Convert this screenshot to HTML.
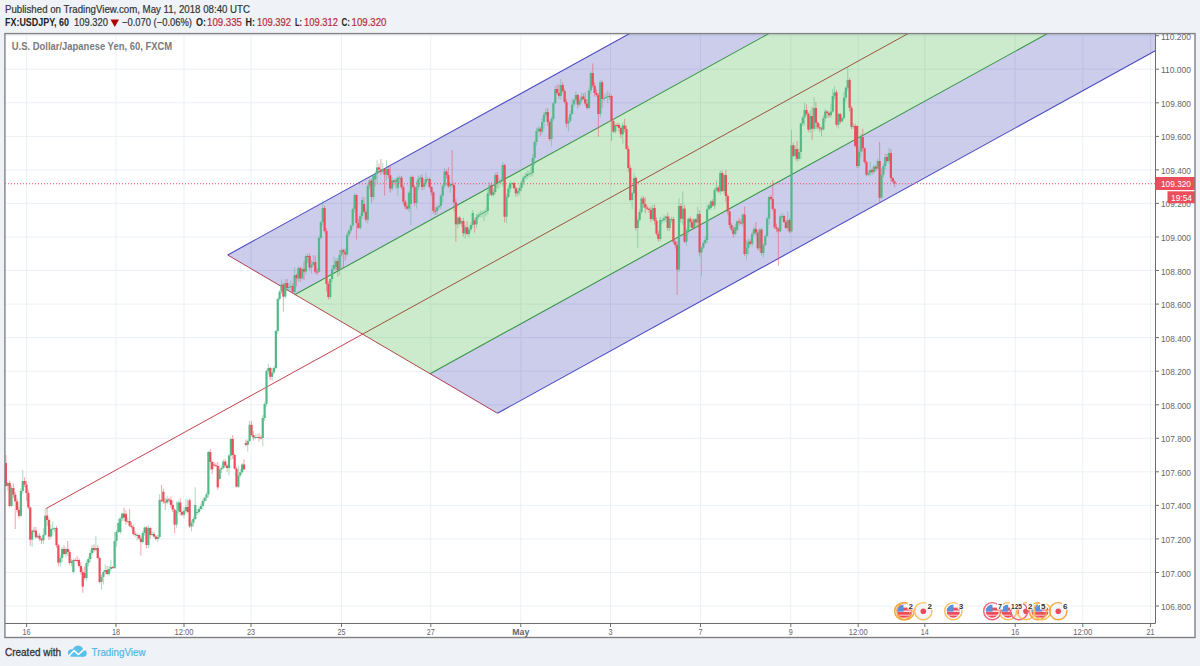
<!DOCTYPE html><html><head><meta charset="utf-8"><style>html,body{margin:0;padding:0;background:#eff2f6;width:1200px;height:666px;overflow:hidden}svg{display:block}text{font-family:"Liberation Sans",sans-serif}</style></head><body>
<svg width="1200" height="666" viewBox="0 0 1200 666">
<rect x="0" y="0" width="1200" height="666" fill="#eff2f6"/>
<text x="5" y="12.5" font-size="11" fill="#333" stroke="#333" stroke-width="0.2" textLength="245" lengthAdjust="spacingAndGlyphs">Published on TradingView.com, May 11, 2018 08:40 UTC</text>
<text x="5" y="26" font-size="11" font-weight="bold" fill="#222" textLength="64" lengthAdjust="spacingAndGlyphs">FX:USDJPY, 60</text>
<text x="74" y="26" font-size="11" fill="#333" stroke="#333" stroke-width="0.2" textLength="34" lengthAdjust="spacingAndGlyphs">109.320</text>
<path d="M110.5 19.5 L119 19.5 L114.75 27 Z" fill="#b30000"/>
<text x="122" y="26" font-size="11" fill="#333" stroke="#333" stroke-width="0.2" textLength="70" lengthAdjust="spacingAndGlyphs">−0.070 (−0.06%)</text>
<text x="196" y="26" font-size="11" font-weight="bold" fill="#222" textLength="10" lengthAdjust="spacingAndGlyphs">O:</text>
<text x="207" y="26" font-size="11" fill="#b82a3a" stroke="#b82a3a" stroke-width="0.2" textLength="35" lengthAdjust="spacingAndGlyphs">109.335</text>
<text x="245.5" y="26" font-size="11" font-weight="bold" fill="#222" textLength="9.5" lengthAdjust="spacingAndGlyphs">H:</text>
<text x="257" y="26" font-size="11" fill="#b82a3a" stroke="#b82a3a" stroke-width="0.2" textLength="34" lengthAdjust="spacingAndGlyphs">109.392</text>
<text x="295" y="26" font-size="11" font-weight="bold" fill="#222" textLength="7" lengthAdjust="spacingAndGlyphs">L:</text>
<text x="304" y="26" font-size="11" fill="#b82a3a" stroke="#b82a3a" stroke-width="0.2" textLength="34" lengthAdjust="spacingAndGlyphs">109.312</text>
<text x="341.5" y="26" font-size="11" font-weight="bold" fill="#222" textLength="8.5" lengthAdjust="spacingAndGlyphs">C:</text>
<text x="351.5" y="26" font-size="11" fill="#b82a3a" stroke="#b82a3a" stroke-width="0.2" textLength="35" lengthAdjust="spacingAndGlyphs">109.320</text>
<rect x="4.5" y="33.5" width="1190.5" height="604" fill="#ffffff"/>
<defs><clipPath id="plot"><rect x="5" y="34" width="1150.5" height="589"/></clipPath></defs>
<g stroke="#ebf1f7" stroke-width="1">
<line x1="5" y1="606.0" x2="1155" y2="606.0"/>
<line x1="5" y1="572.5" x2="1155" y2="572.5"/>
<line x1="5" y1="538.9" x2="1155" y2="538.9"/>
<line x1="5" y1="505.4" x2="1155" y2="505.4"/>
<line x1="5" y1="471.8" x2="1155" y2="471.8"/>
<line x1="5" y1="438.3" x2="1155" y2="438.3"/>
<line x1="5" y1="404.8" x2="1155" y2="404.8"/>
<line x1="5" y1="371.2" x2="1155" y2="371.2"/>
<line x1="5" y1="337.6" x2="1155" y2="337.6"/>
<line x1="5" y1="304.1" x2="1155" y2="304.1"/>
<line x1="5" y1="270.5" x2="1155" y2="270.5"/>
<line x1="5" y1="237.0" x2="1155" y2="237.0"/>
<line x1="5" y1="203.4" x2="1155" y2="203.4"/>
<line x1="5" y1="169.9" x2="1155" y2="169.9"/>
<line x1="5" y1="136.4" x2="1155" y2="136.4"/>
<line x1="5" y1="102.8" x2="1155" y2="102.8"/>
<line x1="5" y1="69.2" x2="1155" y2="69.2"/>
<line x1="5" y1="35.7" x2="1155" y2="35.7"/>
<line x1="26.6" y1="34" x2="26.6" y2="623"/>
<line x1="116" y1="34" x2="116" y2="623"/>
<line x1="184" y1="34" x2="184" y2="623"/>
<line x1="251" y1="34" x2="251" y2="623"/>
<line x1="341.5" y1="34" x2="341.5" y2="623"/>
<line x1="430.8" y1="34" x2="430.8" y2="623"/>
<line x1="520.8" y1="34" x2="520.8" y2="623"/>
<line x1="610.5" y1="34" x2="610.5" y2="623"/>
<line x1="700.5" y1="34" x2="700.5" y2="623"/>
<line x1="790.8" y1="34" x2="790.8" y2="623"/>
<line x1="858.2" y1="34" x2="858.2" y2="623"/>
<line x1="924.8" y1="34" x2="924.8" y2="623"/>
<line x1="1015.2" y1="34" x2="1015.2" y2="623"/>
<line x1="1082.8" y1="34" x2="1082.8" y2="623"/>
<line x1="1150.6" y1="34" x2="1150.6" y2="623"/>
</g>
<g clip-path="url(#plot)">
<line x1="227.70" y1="255.00" x2="1300.00" y2="-335.84" stroke="#5050c8" stroke-width="1.05"/>
<line x1="497.50" y1="413.30" x2="1300.00" y2="-28.88" stroke="#5050c8" stroke-width="1.05"/>
<line x1="295.15" y1="294.57" x2="1300.00" y2="-259.10" stroke="#44a844" stroke-width="1.05"/>
<line x1="430.05" y1="373.73" x2="1300.00" y2="-105.62" stroke="#44a844" stroke-width="1.05"/>
<line x1="46.20" y1="508.49" x2="1300.00" y2="-182.36" stroke="#c4424c" stroke-width="1.0"/>
<line x1="227.70" y1="255.00" x2="497.50" y2="413.30" stroke="#c4424c" stroke-width="1.0"/>
<polygon points="227.70,255.00 1300.00,-335.84 1300.00,-259.10 295.15,294.57" fill="rgba(0,0,153,0.2)"/>
<polygon points="295.15,294.57 1300.00,-259.10 1300.00,-105.62 430.05,373.73" fill="rgba(0,153,0,0.2)"/>
<polygon points="430.05,373.73 1300.00,-105.62 1300.00,-28.88 497.50,413.30" fill="rgba(0,0,153,0.2)"/>
</g>
<g clip-path="url(#plot)">
<g stroke-width="1" stroke-opacity="0.5"><line x1="5.88" y1="455.0" x2="5.88" y2="487.0" stroke="#eb4d5c"/><line x1="7.75" y1="482.0" x2="7.75" y2="490.6" stroke="#53b987"/><line x1="9.62" y1="480.8" x2="9.62" y2="507.5" stroke="#eb4d5c"/><line x1="11.50" y1="485.4" x2="11.50" y2="506.9" stroke="#53b987"/><line x1="13.38" y1="483.5" x2="13.38" y2="498.1" stroke="#eb4d5c"/><line x1="15.25" y1="491.9" x2="15.25" y2="529.0" stroke="#eb4d5c"/><line x1="17.12" y1="498.4" x2="17.12" y2="512.7" stroke="#eb4d5c"/><line x1="19.00" y1="506.7" x2="19.00" y2="518.4" stroke="#eb4d5c"/><line x1="20.88" y1="487.9" x2="20.88" y2="517.0" stroke="#53b987"/><line x1="22.75" y1="470.0" x2="22.75" y2="493.9" stroke="#53b987"/><line x1="24.62" y1="477.4" x2="24.62" y2="487.3" stroke="#eb4d5c"/><line x1="26.50" y1="481.1" x2="26.50" y2="500.7" stroke="#eb4d5c"/><line x1="28.38" y1="490.1" x2="28.38" y2="509.1" stroke="#eb4d5c"/><line x1="30.25" y1="506.5" x2="30.25" y2="545.8" stroke="#eb4d5c"/><line x1="32.12" y1="529.4" x2="32.12" y2="547.0" stroke="#53b987"/><line x1="34.00" y1="527.0" x2="34.00" y2="532.3" stroke="#eb4d5c"/><line x1="35.88" y1="527.0" x2="35.88" y2="538.7" stroke="#eb4d5c"/><line x1="37.75" y1="533.4" x2="37.75" y2="538.1" stroke="#53b987"/><line x1="39.62" y1="533.2" x2="39.62" y2="541.2" stroke="#eb4d5c"/><line x1="41.50" y1="537.8" x2="41.50" y2="543.9" stroke="#eb4d5c"/><line x1="43.38" y1="528.4" x2="43.38" y2="544.1" stroke="#53b987"/><line x1="45.25" y1="508.0" x2="45.25" y2="535.8" stroke="#53b987"/><line x1="47.12" y1="508.1" x2="47.12" y2="525.8" stroke="#eb4d5c"/><line x1="49.00" y1="518.1" x2="49.00" y2="540.1" stroke="#eb4d5c"/><line x1="50.88" y1="524.2" x2="50.88" y2="538.5" stroke="#53b987"/><line x1="52.75" y1="521.4" x2="52.75" y2="535.7" stroke="#53b987"/><line x1="54.62" y1="527.1" x2="54.62" y2="532.1" stroke="#53b987"/><line x1="56.50" y1="526.0" x2="56.50" y2="547.8" stroke="#eb4d5c"/><line x1="58.38" y1="543.8" x2="58.38" y2="566.1" stroke="#eb4d5c"/><line x1="60.25" y1="554.8" x2="60.25" y2="566.6" stroke="#53b987"/><line x1="62.12" y1="547.3" x2="62.12" y2="561.9" stroke="#53b987"/><line x1="64.00" y1="545.0" x2="64.00" y2="555.5" stroke="#eb4d5c"/><line x1="65.88" y1="547.5" x2="65.88" y2="557.5" stroke="#53b987"/><line x1="67.75" y1="541.0" x2="67.75" y2="555.7" stroke="#eb4d5c"/><line x1="69.62" y1="549.7" x2="69.62" y2="564.9" stroke="#eb4d5c"/><line x1="71.50" y1="558.9" x2="71.50" y2="566.1" stroke="#53b987"/><line x1="73.38" y1="558.7" x2="73.38" y2="573.3" stroke="#53b987"/><line x1="75.25" y1="558.1" x2="75.25" y2="560.8" stroke="#eb4d5c"/><line x1="77.12" y1="556.2" x2="77.12" y2="563.4" stroke="#eb4d5c"/><line x1="79.00" y1="558.3" x2="79.00" y2="567.6" stroke="#eb4d5c"/><line x1="80.88" y1="562.3" x2="80.88" y2="574.7" stroke="#eb4d5c"/><line x1="82.75" y1="568.3" x2="82.75" y2="592.8" stroke="#eb4d5c"/><line x1="84.62" y1="566.4" x2="84.62" y2="579.4" stroke="#eb4d5c"/><line x1="86.50" y1="560.4" x2="86.50" y2="580.6" stroke="#53b987"/><line x1="88.38" y1="556.4" x2="88.38" y2="566.3" stroke="#53b987"/><line x1="90.25" y1="549.8" x2="90.25" y2="561.8" stroke="#53b987"/><line x1="92.12" y1="545.0" x2="92.12" y2="555.3" stroke="#53b987"/><line x1="94.00" y1="544.4" x2="94.00" y2="552.6" stroke="#eb4d5c"/><line x1="95.88" y1="536.0" x2="95.88" y2="551.0" stroke="#53b987"/><line x1="97.75" y1="545.1" x2="97.75" y2="559.3" stroke="#eb4d5c"/><line x1="99.62" y1="556.7" x2="99.62" y2="583.5" stroke="#eb4d5c"/><line x1="101.50" y1="574.6" x2="101.50" y2="589.5" stroke="#53b987"/><line x1="103.38" y1="570.1" x2="103.38" y2="584.3" stroke="#53b987"/><line x1="105.25" y1="564.5" x2="105.25" y2="574.8" stroke="#53b987"/><line x1="107.12" y1="566.0" x2="107.12" y2="575.1" stroke="#eb4d5c"/><line x1="109.00" y1="565.7" x2="109.00" y2="576.2" stroke="#53b987"/><line x1="110.88" y1="559.7" x2="110.88" y2="571.6" stroke="#53b987"/><line x1="112.75" y1="566.0" x2="112.75" y2="569.0" stroke="#eb4d5c"/><line x1="114.62" y1="532.2" x2="114.62" y2="569.0" stroke="#53b987"/><line x1="116.50" y1="530.1" x2="116.50" y2="546.8" stroke="#53b987"/><line x1="118.38" y1="518.8" x2="118.38" y2="533.0" stroke="#53b987"/><line x1="120.25" y1="516.7" x2="120.25" y2="534.4" stroke="#53b987"/><line x1="122.12" y1="512.7" x2="122.12" y2="521.6" stroke="#53b987"/><line x1="124.00" y1="507.6" x2="124.00" y2="521.0" stroke="#eb4d5c"/><line x1="125.88" y1="510.5" x2="125.88" y2="524.5" stroke="#eb4d5c"/><line x1="127.75" y1="517.5" x2="127.75" y2="523.6" stroke="#53b987"/><line x1="129.62" y1="509.0" x2="129.62" y2="527.3" stroke="#eb4d5c"/><line x1="131.50" y1="522.2" x2="131.50" y2="528.7" stroke="#eb4d5c"/><line x1="133.38" y1="524.7" x2="133.38" y2="535.6" stroke="#eb4d5c"/><line x1="135.25" y1="531.4" x2="135.25" y2="536.8" stroke="#eb4d5c"/><line x1="137.12" y1="532.7" x2="137.12" y2="540.5" stroke="#53b987"/><line x1="139.00" y1="533.9" x2="139.00" y2="539.4" stroke="#eb4d5c"/><line x1="140.88" y1="535.8" x2="140.88" y2="555.7" stroke="#eb4d5c"/><line x1="142.75" y1="531.0" x2="142.75" y2="543.3" stroke="#53b987"/><line x1="144.62" y1="526.6" x2="144.62" y2="535.8" stroke="#53b987"/><line x1="146.50" y1="526.3" x2="146.50" y2="548.5" stroke="#eb4d5c"/><line x1="148.38" y1="525.3" x2="148.38" y2="548.0" stroke="#53b987"/><line x1="150.25" y1="526.8" x2="150.25" y2="538.5" stroke="#eb4d5c"/><line x1="152.12" y1="531.2" x2="152.12" y2="535.8" stroke="#53b987"/><line x1="154.00" y1="531.6" x2="154.00" y2="537.5" stroke="#eb4d5c"/><line x1="155.88" y1="535.5" x2="155.88" y2="540.5" stroke="#eb4d5c"/><line x1="157.75" y1="534.6" x2="157.75" y2="542.0" stroke="#53b987"/><line x1="159.62" y1="494.4" x2="159.62" y2="538.6" stroke="#53b987"/><line x1="161.50" y1="485.0" x2="161.50" y2="502.4" stroke="#eb4d5c"/><line x1="163.38" y1="488.7" x2="163.38" y2="503.9" stroke="#eb4d5c"/><line x1="165.25" y1="497.9" x2="165.25" y2="510.1" stroke="#eb4d5c"/><line x1="167.12" y1="496.0" x2="167.12" y2="504.2" stroke="#53b987"/><line x1="169.00" y1="497.9" x2="169.00" y2="502.5" stroke="#eb4d5c"/><line x1="170.88" y1="496.6" x2="170.88" y2="507.9" stroke="#eb4d5c"/><line x1="172.75" y1="500.5" x2="172.75" y2="512.1" stroke="#eb4d5c"/><line x1="174.62" y1="508.4" x2="174.62" y2="533.1" stroke="#eb4d5c"/><line x1="176.50" y1="501.4" x2="176.50" y2="527.7" stroke="#53b987"/><line x1="178.38" y1="500.5" x2="178.38" y2="513.3" stroke="#53b987"/><line x1="180.25" y1="498.4" x2="180.25" y2="515.5" stroke="#eb4d5c"/><line x1="182.12" y1="510.4" x2="182.12" y2="516.1" stroke="#eb4d5c"/><line x1="184.00" y1="507.2" x2="184.00" y2="518.4" stroke="#53b987"/><line x1="185.88" y1="499.0" x2="185.88" y2="513.1" stroke="#53b987"/><line x1="187.75" y1="499.6" x2="187.75" y2="513.2" stroke="#eb4d5c"/><line x1="189.62" y1="498.5" x2="189.62" y2="528.0" stroke="#eb4d5c"/><line x1="191.50" y1="520.1" x2="191.50" y2="531.3" stroke="#53b987"/><line x1="193.38" y1="516.6" x2="193.38" y2="526.7" stroke="#53b987"/><line x1="195.25" y1="487.2" x2="195.25" y2="520.1" stroke="#53b987"/><line x1="197.12" y1="509.4" x2="197.12" y2="515.1" stroke="#53b987"/><line x1="199.00" y1="507.0" x2="199.00" y2="513.7" stroke="#53b987"/><line x1="200.88" y1="503.6" x2="200.88" y2="510.5" stroke="#53b987"/><line x1="202.75" y1="498.9" x2="202.75" y2="509.5" stroke="#53b987"/><line x1="204.62" y1="496.7" x2="204.62" y2="503.3" stroke="#53b987"/><line x1="206.50" y1="492.3" x2="206.50" y2="501.1" stroke="#53b987"/><line x1="208.38" y1="450.9" x2="208.38" y2="497.4" stroke="#53b987"/><line x1="210.25" y1="449.1" x2="210.25" y2="469.7" stroke="#eb4d5c"/><line x1="212.12" y1="460.5" x2="212.12" y2="474.1" stroke="#eb4d5c"/><line x1="214.00" y1="461.7" x2="214.00" y2="466.3" stroke="#eb4d5c"/><line x1="215.88" y1="463.2" x2="215.88" y2="466.8" stroke="#eb4d5c"/><line x1="217.75" y1="462.1" x2="217.75" y2="489.6" stroke="#eb4d5c"/><line x1="219.62" y1="465.4" x2="219.62" y2="479.9" stroke="#53b987"/><line x1="221.50" y1="465.9" x2="221.50" y2="473.1" stroke="#53b987"/><line x1="223.38" y1="459.6" x2="223.38" y2="469.4" stroke="#53b987"/><line x1="225.25" y1="459.1" x2="225.25" y2="467.5" stroke="#eb4d5c"/><line x1="227.12" y1="464.2" x2="227.12" y2="471.8" stroke="#eb4d5c"/><line x1="229.00" y1="454.0" x2="229.00" y2="475.4" stroke="#53b987"/><line x1="230.88" y1="437.5" x2="230.88" y2="460.0" stroke="#53b987"/><line x1="232.75" y1="435.3" x2="232.75" y2="459.0" stroke="#eb4d5c"/><line x1="234.62" y1="453.6" x2="234.62" y2="469.6" stroke="#eb4d5c"/><line x1="236.50" y1="466.7" x2="236.50" y2="487.5" stroke="#eb4d5c"/><line x1="238.38" y1="465.6" x2="238.38" y2="488.2" stroke="#53b987"/><line x1="240.25" y1="468.9" x2="240.25" y2="477.6" stroke="#53b987"/><line x1="242.12" y1="463.1" x2="242.12" y2="473.2" stroke="#53b987"/><line x1="244.00" y1="459.1" x2="244.00" y2="470.3" stroke="#eb4d5c"/><line x1="245.88" y1="439.8" x2="245.88" y2="446.6" stroke="#eb4d5c"/><line x1="247.75" y1="439.4" x2="247.75" y2="451.6" stroke="#53b987"/><line x1="249.62" y1="421.1" x2="249.62" y2="441.9" stroke="#53b987"/><line x1="251.50" y1="420.9" x2="251.50" y2="436.6" stroke="#eb4d5c"/><line x1="253.38" y1="431.2" x2="253.38" y2="440.7" stroke="#eb4d5c"/><line x1="255.25" y1="434.3" x2="255.25" y2="439.5" stroke="#53b987"/><line x1="257.12" y1="433.8" x2="257.12" y2="437.9" stroke="#53b987"/><line x1="259.00" y1="433.1" x2="259.00" y2="441.5" stroke="#eb4d5c"/><line x1="260.88" y1="435.1" x2="260.88" y2="439.5" stroke="#eb4d5c"/><line x1="262.75" y1="415.0" x2="262.75" y2="446.3" stroke="#53b987"/><line x1="264.62" y1="402.3" x2="264.62" y2="421.2" stroke="#53b987"/><line x1="266.50" y1="369.4" x2="266.50" y2="406.7" stroke="#53b987"/><line x1="268.38" y1="364.0" x2="268.38" y2="374.4" stroke="#53b987"/><line x1="270.25" y1="366.9" x2="270.25" y2="380.3" stroke="#eb4d5c"/><line x1="272.12" y1="367.9" x2="272.12" y2="380.7" stroke="#53b987"/><line x1="274.00" y1="366.0" x2="274.00" y2="374.0" stroke="#53b987"/><line x1="275.88" y1="329.9" x2="275.88" y2="369.5" stroke="#53b987"/><line x1="277.75" y1="297.5" x2="277.75" y2="333.9" stroke="#53b987"/><line x1="279.62" y1="289.9" x2="279.62" y2="300.8" stroke="#53b987"/><line x1="281.50" y1="279.5" x2="281.50" y2="293.8" stroke="#53b987"/><line x1="283.38" y1="283.4" x2="283.38" y2="311.5" stroke="#eb4d5c"/><line x1="285.25" y1="279.1" x2="285.25" y2="298.5" stroke="#53b987"/><line x1="287.12" y1="279.0" x2="287.12" y2="291.1" stroke="#eb4d5c"/><line x1="289.00" y1="283.3" x2="289.00" y2="290.1" stroke="#53b987"/><line x1="290.88" y1="280.5" x2="290.88" y2="289.9" stroke="#53b987"/><line x1="292.75" y1="283.2" x2="292.75" y2="293.3" stroke="#eb4d5c"/><line x1="294.62" y1="267.3" x2="294.62" y2="295.4" stroke="#53b987"/><line x1="296.50" y1="273.8" x2="296.50" y2="286.4" stroke="#eb4d5c"/><line x1="298.38" y1="266.2" x2="298.38" y2="281.8" stroke="#53b987"/><line x1="300.25" y1="266.7" x2="300.25" y2="281.9" stroke="#eb4d5c"/><line x1="302.12" y1="266.9" x2="302.12" y2="279.6" stroke="#53b987"/><line x1="304.00" y1="261.1" x2="304.00" y2="280.2" stroke="#eb4d5c"/><line x1="305.88" y1="254.8" x2="305.88" y2="274.4" stroke="#53b987"/><line x1="307.75" y1="253.8" x2="307.75" y2="262.7" stroke="#eb4d5c"/><line x1="309.62" y1="253.6" x2="309.62" y2="270.9" stroke="#eb4d5c"/><line x1="311.50" y1="260.0" x2="311.50" y2="273.5" stroke="#53b987"/><line x1="313.38" y1="255.0" x2="313.38" y2="265.9" stroke="#53b987"/><line x1="315.25" y1="255.5" x2="315.25" y2="273.6" stroke="#eb4d5c"/><line x1="317.12" y1="268.1" x2="317.12" y2="275.1" stroke="#eb4d5c"/><line x1="319.00" y1="235.6" x2="319.00" y2="273.0" stroke="#53b987"/><line x1="320.88" y1="221.0" x2="320.88" y2="239.3" stroke="#53b987"/><line x1="322.75" y1="200.6" x2="322.75" y2="225.7" stroke="#53b987"/><line x1="324.62" y1="205.6" x2="324.62" y2="232.4" stroke="#eb4d5c"/><line x1="326.50" y1="228.0" x2="326.50" y2="291.4" stroke="#eb4d5c"/><line x1="328.38" y1="281.2" x2="328.38" y2="299.6" stroke="#eb4d5c"/><line x1="330.25" y1="277.9" x2="330.25" y2="299.1" stroke="#53b987"/><line x1="332.12" y1="265.0" x2="332.12" y2="282.2" stroke="#53b987"/><line x1="334.00" y1="256.5" x2="334.00" y2="270.6" stroke="#53b987"/><line x1="335.88" y1="258.3" x2="335.88" y2="270.4" stroke="#53b987"/><line x1="337.75" y1="258.2" x2="337.75" y2="276.6" stroke="#eb4d5c"/><line x1="339.62" y1="250.1" x2="339.62" y2="275.4" stroke="#53b987"/><line x1="341.50" y1="248.5" x2="341.50" y2="256.5" stroke="#53b987"/><line x1="343.38" y1="248.8" x2="343.38" y2="267.6" stroke="#eb4d5c"/><line x1="345.25" y1="248.6" x2="345.25" y2="260.6" stroke="#eb4d5c"/><line x1="347.12" y1="232.0" x2="347.12" y2="256.6" stroke="#53b987"/><line x1="349.00" y1="228.9" x2="349.00" y2="237.1" stroke="#53b987"/><line x1="350.88" y1="224.5" x2="350.88" y2="233.1" stroke="#53b987"/><line x1="352.75" y1="207.6" x2="352.75" y2="228.4" stroke="#53b987"/><line x1="354.62" y1="193.2" x2="354.62" y2="212.6" stroke="#53b987"/><line x1="356.50" y1="194.2" x2="356.50" y2="239.5" stroke="#eb4d5c"/><line x1="358.38" y1="218.5" x2="358.38" y2="228.9" stroke="#eb4d5c"/><line x1="360.25" y1="213.0" x2="360.25" y2="229.7" stroke="#53b987"/><line x1="362.12" y1="196.7" x2="362.12" y2="218.9" stroke="#53b987"/><line x1="364.00" y1="197.3" x2="364.00" y2="213.4" stroke="#eb4d5c"/><line x1="365.88" y1="208.7" x2="365.88" y2="221.6" stroke="#eb4d5c"/><line x1="367.75" y1="183.2" x2="367.75" y2="223.6" stroke="#53b987"/><line x1="369.62" y1="177.6" x2="369.62" y2="189.1" stroke="#53b987"/><line x1="371.50" y1="179.1" x2="371.50" y2="202.8" stroke="#eb4d5c"/><line x1="373.38" y1="174.7" x2="373.38" y2="200.4" stroke="#53b987"/><line x1="375.25" y1="171.0" x2="375.25" y2="186.9" stroke="#53b987"/><line x1="377.12" y1="160.2" x2="377.12" y2="183.1" stroke="#53b987"/><line x1="379.00" y1="163.7" x2="379.00" y2="173.1" stroke="#eb4d5c"/><line x1="380.88" y1="159.0" x2="380.88" y2="175.0" stroke="#eb4d5c"/><line x1="382.75" y1="162.9" x2="382.75" y2="173.1" stroke="#53b987"/><line x1="384.62" y1="168.1" x2="384.62" y2="195.7" stroke="#eb4d5c"/><line x1="386.50" y1="160.0" x2="386.50" y2="181.0" stroke="#53b987"/><line x1="388.38" y1="166.8" x2="388.38" y2="178.3" stroke="#eb4d5c"/><line x1="390.25" y1="166.4" x2="390.25" y2="192.7" stroke="#eb4d5c"/><line x1="392.12" y1="177.4" x2="392.12" y2="190.9" stroke="#53b987"/><line x1="394.00" y1="179.2" x2="394.00" y2="185.5" stroke="#eb4d5c"/><line x1="395.88" y1="178.1" x2="395.88" y2="188.9" stroke="#53b987"/><line x1="397.75" y1="176.5" x2="397.75" y2="195.7" stroke="#53b987"/><line x1="399.62" y1="175.5" x2="399.62" y2="184.1" stroke="#53b987"/><line x1="401.50" y1="176.0" x2="401.50" y2="189.3" stroke="#eb4d5c"/><line x1="403.38" y1="185.0" x2="403.38" y2="204.9" stroke="#eb4d5c"/><line x1="405.25" y1="199.9" x2="405.25" y2="209.5" stroke="#eb4d5c"/><line x1="407.12" y1="204.4" x2="407.12" y2="209.8" stroke="#eb4d5c"/><line x1="409.00" y1="191.2" x2="409.00" y2="211.7" stroke="#53b987"/><line x1="410.88" y1="175.7" x2="410.88" y2="225.0" stroke="#53b987"/><line x1="412.75" y1="175.6" x2="412.75" y2="188.1" stroke="#eb4d5c"/><line x1="414.62" y1="185.0" x2="414.62" y2="206.1" stroke="#eb4d5c"/><line x1="416.50" y1="181.3" x2="416.50" y2="208.6" stroke="#53b987"/><line x1="418.38" y1="175.7" x2="418.38" y2="189.8" stroke="#53b987"/><line x1="420.25" y1="174.9" x2="420.25" y2="182.7" stroke="#53b987"/><line x1="422.12" y1="174.4" x2="422.12" y2="190.1" stroke="#eb4d5c"/><line x1="424.00" y1="180.0" x2="424.00" y2="189.9" stroke="#53b987"/><line x1="425.88" y1="172.5" x2="425.88" y2="186.3" stroke="#53b987"/><line x1="427.75" y1="176.8" x2="427.75" y2="181.1" stroke="#53b987"/><line x1="429.62" y1="177.6" x2="429.62" y2="189.0" stroke="#eb4d5c"/><line x1="431.50" y1="186.1" x2="431.50" y2="195.7" stroke="#eb4d5c"/><line x1="433.38" y1="191.3" x2="433.38" y2="213.8" stroke="#eb4d5c"/><line x1="435.25" y1="207.2" x2="435.25" y2="214.8" stroke="#eb4d5c"/><line x1="437.12" y1="205.2" x2="437.12" y2="215.0" stroke="#53b987"/><line x1="439.00" y1="204.3" x2="439.00" y2="209.4" stroke="#53b987"/><line x1="440.88" y1="193.9" x2="440.88" y2="209.2" stroke="#53b987"/><line x1="442.75" y1="184.2" x2="442.75" y2="202.4" stroke="#53b987"/><line x1="444.62" y1="168.1" x2="444.62" y2="188.3" stroke="#53b987"/><line x1="446.50" y1="169.6" x2="446.50" y2="178.4" stroke="#eb4d5c"/><line x1="448.38" y1="167.1" x2="448.38" y2="188.2" stroke="#eb4d5c"/><line x1="450.25" y1="182.0" x2="450.25" y2="192.6" stroke="#53b987"/><line x1="452.12" y1="150.0" x2="452.12" y2="187.3" stroke="#eb4d5c"/><line x1="454.00" y1="182.1" x2="454.00" y2="211.3" stroke="#eb4d5c"/><line x1="455.88" y1="198.8" x2="455.88" y2="241.6" stroke="#eb4d5c"/><line x1="457.75" y1="216.8" x2="457.75" y2="228.5" stroke="#53b987"/><line x1="459.62" y1="216.1" x2="459.62" y2="224.9" stroke="#eb4d5c"/><line x1="461.50" y1="219.7" x2="461.50" y2="226.9" stroke="#53b987"/><line x1="463.38" y1="217.7" x2="463.38" y2="236.3" stroke="#eb4d5c"/><line x1="465.25" y1="225.1" x2="465.25" y2="238.6" stroke="#53b987"/><line x1="467.12" y1="221.1" x2="467.12" y2="235.3" stroke="#eb4d5c"/><line x1="469.00" y1="227.0" x2="469.00" y2="237.5" stroke="#53b987"/><line x1="470.88" y1="222.1" x2="470.88" y2="231.6" stroke="#53b987"/><line x1="472.75" y1="210.2" x2="472.75" y2="227.8" stroke="#53b987"/><line x1="474.62" y1="218.7" x2="474.62" y2="232.6" stroke="#eb4d5c"/><line x1="476.50" y1="213.9" x2="476.50" y2="227.9" stroke="#53b987"/><line x1="478.38" y1="212.5" x2="478.38" y2="219.2" stroke="#53b987"/><line x1="480.25" y1="210.6" x2="480.25" y2="217.1" stroke="#53b987"/><line x1="482.12" y1="210.6" x2="482.12" y2="217.3" stroke="#53b987"/><line x1="484.00" y1="210.2" x2="484.00" y2="221.2" stroke="#53b987"/><line x1="485.88" y1="207.4" x2="485.88" y2="216.5" stroke="#53b987"/><line x1="487.75" y1="189.8" x2="487.75" y2="214.3" stroke="#53b987"/><line x1="489.62" y1="182.5" x2="489.62" y2="196.2" stroke="#53b987"/><line x1="491.50" y1="182.4" x2="491.50" y2="196.1" stroke="#eb4d5c"/><line x1="493.38" y1="188.7" x2="493.38" y2="197.0" stroke="#53b987"/><line x1="495.25" y1="172.4" x2="495.25" y2="194.1" stroke="#53b987"/><line x1="497.12" y1="172.1" x2="497.12" y2="188.1" stroke="#eb4d5c"/><line x1="499.00" y1="178.6" x2="499.00" y2="188.8" stroke="#53b987"/><line x1="500.88" y1="178.3" x2="500.88" y2="184.3" stroke="#53b987"/><line x1="502.75" y1="162.0" x2="502.75" y2="186.6" stroke="#53b987"/><line x1="504.62" y1="163.8" x2="504.62" y2="222.4" stroke="#eb4d5c"/><line x1="506.50" y1="193.9" x2="506.50" y2="223.2" stroke="#53b987"/><line x1="508.38" y1="185.4" x2="508.38" y2="198.1" stroke="#53b987"/><line x1="510.25" y1="181.4" x2="510.25" y2="192.4" stroke="#53b987"/><line x1="512.12" y1="182.2" x2="512.12" y2="184.8" stroke="#53b987"/><line x1="514.00" y1="181.7" x2="514.00" y2="189.1" stroke="#eb4d5c"/><line x1="515.88" y1="185.9" x2="515.88" y2="196.7" stroke="#eb4d5c"/><line x1="517.75" y1="188.2" x2="517.75" y2="196.6" stroke="#53b987"/><line x1="519.62" y1="185.4" x2="519.62" y2="194.9" stroke="#53b987"/><line x1="521.50" y1="180.6" x2="521.50" y2="191.5" stroke="#53b987"/><line x1="523.38" y1="175.4" x2="523.38" y2="185.5" stroke="#53b987"/><line x1="525.25" y1="172.6" x2="525.25" y2="179.2" stroke="#53b987"/><line x1="527.12" y1="170.6" x2="527.12" y2="179.5" stroke="#53b987"/><line x1="529.00" y1="170.9" x2="529.00" y2="177.4" stroke="#53b987"/><line x1="530.88" y1="166.9" x2="530.88" y2="176.9" stroke="#53b987"/><line x1="532.75" y1="154.0" x2="532.75" y2="176.0" stroke="#53b987"/><line x1="534.62" y1="140.4" x2="534.62" y2="165.3" stroke="#53b987"/><line x1="536.50" y1="127.7" x2="536.50" y2="145.7" stroke="#53b987"/><line x1="538.38" y1="126.4" x2="538.38" y2="132.4" stroke="#53b987"/><line x1="540.25" y1="126.7" x2="540.25" y2="136.2" stroke="#eb4d5c"/><line x1="542.12" y1="118.0" x2="542.12" y2="134.4" stroke="#53b987"/><line x1="544.00" y1="112.0" x2="544.00" y2="128.8" stroke="#53b987"/><line x1="545.88" y1="108.4" x2="545.88" y2="116.3" stroke="#53b987"/><line x1="547.75" y1="108.2" x2="547.75" y2="125.9" stroke="#eb4d5c"/><line x1="549.62" y1="120.6" x2="549.62" y2="141.0" stroke="#eb4d5c"/><line x1="551.50" y1="116.5" x2="551.50" y2="146.5" stroke="#53b987"/><line x1="553.38" y1="102.0" x2="553.38" y2="121.4" stroke="#53b987"/><line x1="555.25" y1="86.1" x2="555.25" y2="104.5" stroke="#53b987"/><line x1="557.12" y1="84.5" x2="557.12" y2="94.9" stroke="#eb4d5c"/><line x1="559.00" y1="84.4" x2="559.00" y2="98.9" stroke="#eb4d5c"/><line x1="560.88" y1="79.0" x2="560.88" y2="99.6" stroke="#53b987"/><line x1="562.75" y1="82.3" x2="562.75" y2="92.8" stroke="#eb4d5c"/><line x1="564.62" y1="88.7" x2="564.62" y2="103.3" stroke="#eb4d5c"/><line x1="566.50" y1="98.9" x2="566.50" y2="127.3" stroke="#eb4d5c"/><line x1="568.38" y1="117.2" x2="568.38" y2="131.4" stroke="#53b987"/><line x1="570.25" y1="110.5" x2="570.25" y2="122.7" stroke="#53b987"/><line x1="572.12" y1="98.9" x2="572.12" y2="115.0" stroke="#53b987"/><line x1="574.00" y1="98.5" x2="574.00" y2="106.7" stroke="#53b987"/><line x1="575.88" y1="91.5" x2="575.88" y2="102.2" stroke="#53b987"/><line x1="577.75" y1="93.8" x2="577.75" y2="108.3" stroke="#eb4d5c"/><line x1="579.62" y1="98.2" x2="579.62" y2="106.0" stroke="#53b987"/><line x1="581.50" y1="92.5" x2="581.50" y2="102.2" stroke="#53b987"/><line x1="583.38" y1="93.4" x2="583.38" y2="99.9" stroke="#eb4d5c"/><line x1="585.25" y1="92.4" x2="585.25" y2="106.0" stroke="#eb4d5c"/><line x1="587.12" y1="99.8" x2="587.12" y2="109.2" stroke="#eb4d5c"/><line x1="589.00" y1="87.4" x2="589.00" y2="109.1" stroke="#53b987"/><line x1="590.88" y1="71.3" x2="590.88" y2="93.6" stroke="#53b987"/><line x1="592.75" y1="63.4" x2="592.75" y2="87.8" stroke="#eb4d5c"/><line x1="594.62" y1="82.3" x2="594.62" y2="96.6" stroke="#eb4d5c"/><line x1="596.50" y1="89.3" x2="596.50" y2="96.7" stroke="#eb4d5c"/><line x1="598.38" y1="93.0" x2="598.38" y2="137.0" stroke="#eb4d5c"/><line x1="600.25" y1="80.1" x2="600.25" y2="117.1" stroke="#53b987"/><line x1="602.12" y1="80.5" x2="602.12" y2="107.7" stroke="#eb4d5c"/><line x1="604.00" y1="94.1" x2="604.00" y2="101.5" stroke="#53b987"/><line x1="605.88" y1="93.1" x2="605.88" y2="99.1" stroke="#53b987"/><line x1="607.75" y1="90.3" x2="607.75" y2="102.8" stroke="#53b987"/><line x1="609.62" y1="93.5" x2="609.62" y2="99.6" stroke="#eb4d5c"/><line x1="611.50" y1="94.8" x2="611.50" y2="141.0" stroke="#eb4d5c"/><line x1="613.38" y1="119.8" x2="613.38" y2="132.9" stroke="#eb4d5c"/><line x1="615.25" y1="123.7" x2="615.25" y2="133.6" stroke="#53b987"/><line x1="617.12" y1="122.9" x2="617.12" y2="126.9" stroke="#eb4d5c"/><line x1="619.00" y1="122.8" x2="619.00" y2="131.7" stroke="#eb4d5c"/><line x1="620.88" y1="127.0" x2="620.88" y2="138.1" stroke="#eb4d5c"/><line x1="622.75" y1="122.7" x2="622.75" y2="143.8" stroke="#53b987"/><line x1="624.62" y1="118.8" x2="624.62" y2="132.3" stroke="#eb4d5c"/><line x1="626.50" y1="125.6" x2="626.50" y2="149.9" stroke="#eb4d5c"/><line x1="628.38" y1="146.0" x2="628.38" y2="171.8" stroke="#eb4d5c"/><line x1="630.25" y1="165.5" x2="630.25" y2="201.7" stroke="#eb4d5c"/><line x1="632.12" y1="191.8" x2="632.12" y2="209.0" stroke="#53b987"/><line x1="634.00" y1="173.0" x2="634.00" y2="194.2" stroke="#53b987"/><line x1="635.88" y1="176.3" x2="635.88" y2="230.5" stroke="#eb4d5c"/><line x1="637.75" y1="217.4" x2="637.75" y2="248.0" stroke="#53b987"/><line x1="639.62" y1="209.2" x2="639.62" y2="221.6" stroke="#53b987"/><line x1="641.50" y1="196.5" x2="641.50" y2="213.9" stroke="#53b987"/><line x1="643.38" y1="195.9" x2="643.38" y2="208.0" stroke="#eb4d5c"/><line x1="645.25" y1="197.2" x2="645.25" y2="213.3" stroke="#eb4d5c"/><line x1="647.12" y1="205.3" x2="647.12" y2="210.3" stroke="#eb4d5c"/><line x1="649.00" y1="207.5" x2="649.00" y2="213.0" stroke="#eb4d5c"/><line x1="650.88" y1="206.6" x2="650.88" y2="222.2" stroke="#eb4d5c"/><line x1="652.75" y1="204.7" x2="652.75" y2="220.2" stroke="#53b987"/><line x1="654.62" y1="204.7" x2="654.62" y2="224.7" stroke="#eb4d5c"/><line x1="656.50" y1="217.5" x2="656.50" y2="235.6" stroke="#eb4d5c"/><line x1="658.38" y1="230.5" x2="658.38" y2="241.6" stroke="#eb4d5c"/><line x1="660.25" y1="216.7" x2="660.25" y2="241.2" stroke="#53b987"/><line x1="662.12" y1="217.4" x2="662.12" y2="223.7" stroke="#53b987"/><line x1="664.00" y1="214.8" x2="664.00" y2="222.2" stroke="#53b987"/><line x1="665.88" y1="215.5" x2="665.88" y2="222.0" stroke="#53b987"/><line x1="667.75" y1="212.5" x2="667.75" y2="231.0" stroke="#eb4d5c"/><line x1="669.62" y1="216.3" x2="669.62" y2="231.0" stroke="#53b987"/><line x1="671.50" y1="216.9" x2="671.50" y2="222.6" stroke="#53b987"/><line x1="673.38" y1="216.8" x2="673.38" y2="243.6" stroke="#eb4d5c"/><line x1="675.25" y1="240.4" x2="675.25" y2="248.4" stroke="#eb4d5c"/><line x1="677.12" y1="241.3" x2="677.12" y2="295.0" stroke="#eb4d5c"/><line x1="679.00" y1="198.0" x2="679.00" y2="272.0" stroke="#53b987"/><line x1="680.88" y1="203.2" x2="680.88" y2="222.8" stroke="#eb4d5c"/><line x1="682.75" y1="191.5" x2="682.75" y2="225.0" stroke="#53b987"/><line x1="684.62" y1="205.1" x2="684.62" y2="243.1" stroke="#eb4d5c"/><line x1="686.50" y1="228.6" x2="686.50" y2="245.7" stroke="#53b987"/><line x1="688.38" y1="217.6" x2="688.38" y2="234.1" stroke="#53b987"/><line x1="690.25" y1="216.3" x2="690.25" y2="227.2" stroke="#eb4d5c"/><line x1="692.12" y1="218.5" x2="692.12" y2="229.8" stroke="#eb4d5c"/><line x1="694.00" y1="218.3" x2="694.00" y2="229.8" stroke="#53b987"/><line x1="695.88" y1="218.4" x2="695.88" y2="226.4" stroke="#eb4d5c"/><line x1="697.75" y1="206.7" x2="697.75" y2="226.0" stroke="#53b987"/><line x1="699.62" y1="210.6" x2="699.62" y2="256.4" stroke="#eb4d5c"/><line x1="701.50" y1="246.1" x2="701.50" y2="276.5" stroke="#53b987"/><line x1="703.38" y1="240.6" x2="703.38" y2="249.1" stroke="#53b987"/><line x1="705.25" y1="236.1" x2="705.25" y2="244.2" stroke="#53b987"/><line x1="707.12" y1="204.6" x2="707.12" y2="243.4" stroke="#53b987"/><line x1="709.00" y1="203.9" x2="709.00" y2="210.1" stroke="#53b987"/><line x1="710.88" y1="200.1" x2="710.88" y2="209.7" stroke="#53b987"/><line x1="712.75" y1="199.2" x2="712.75" y2="206.9" stroke="#eb4d5c"/><line x1="714.62" y1="188.0" x2="714.62" y2="209.4" stroke="#53b987"/><line x1="716.50" y1="180.5" x2="716.50" y2="191.6" stroke="#53b987"/><line x1="718.38" y1="185.6" x2="718.38" y2="193.0" stroke="#eb4d5c"/><line x1="720.25" y1="170.6" x2="720.25" y2="194.8" stroke="#53b987"/><line x1="722.12" y1="170.4" x2="722.12" y2="192.1" stroke="#eb4d5c"/><line x1="724.00" y1="173.2" x2="724.00" y2="193.6" stroke="#53b987"/><line x1="725.88" y1="170.0" x2="725.88" y2="202.4" stroke="#eb4d5c"/><line x1="727.75" y1="194.3" x2="727.75" y2="214.8" stroke="#eb4d5c"/><line x1="729.62" y1="210.3" x2="729.62" y2="228.0" stroke="#eb4d5c"/><line x1="731.50" y1="222.9" x2="731.50" y2="231.1" stroke="#eb4d5c"/><line x1="733.38" y1="226.7" x2="733.38" y2="237.7" stroke="#eb4d5c"/><line x1="735.25" y1="223.7" x2="735.25" y2="235.4" stroke="#53b987"/><line x1="737.12" y1="220.4" x2="737.12" y2="231.4" stroke="#53b987"/><line x1="739.00" y1="218.2" x2="739.00" y2="225.4" stroke="#eb4d5c"/><line x1="740.88" y1="218.9" x2="740.88" y2="224.4" stroke="#eb4d5c"/><line x1="742.75" y1="213.5" x2="742.75" y2="226.8" stroke="#53b987"/><line x1="744.62" y1="206.5" x2="744.62" y2="256.1" stroke="#eb4d5c"/><line x1="746.50" y1="240.3" x2="746.50" y2="259.6" stroke="#53b987"/><line x1="748.38" y1="238.4" x2="748.38" y2="254.8" stroke="#53b987"/><line x1="750.25" y1="239.4" x2="750.25" y2="245.0" stroke="#eb4d5c"/><line x1="752.12" y1="231.0" x2="752.12" y2="246.3" stroke="#53b987"/><line x1="754.00" y1="226.3" x2="754.00" y2="235.9" stroke="#53b987"/><line x1="755.88" y1="222.2" x2="755.88" y2="235.5" stroke="#eb4d5c"/><line x1="757.75" y1="230.2" x2="757.75" y2="250.2" stroke="#eb4d5c"/><line x1="759.62" y1="228.3" x2="759.62" y2="251.7" stroke="#53b987"/><line x1="761.50" y1="228.3" x2="761.50" y2="255.3" stroke="#eb4d5c"/><line x1="763.38" y1="243.8" x2="763.38" y2="257.6" stroke="#53b987"/><line x1="765.25" y1="234.6" x2="765.25" y2="246.2" stroke="#53b987"/><line x1="767.12" y1="216.5" x2="767.12" y2="236.8" stroke="#53b987"/><line x1="769.00" y1="195.9" x2="769.00" y2="225.1" stroke="#53b987"/><line x1="770.88" y1="194.8" x2="770.88" y2="199.8" stroke="#eb4d5c"/><line x1="772.75" y1="180.0" x2="772.75" y2="210.6" stroke="#eb4d5c"/><line x1="774.62" y1="208.1" x2="774.62" y2="229.0" stroke="#eb4d5c"/><line x1="776.50" y1="223.8" x2="776.50" y2="232.3" stroke="#eb4d5c"/><line x1="778.38" y1="227.2" x2="778.38" y2="265.8" stroke="#eb4d5c"/><line x1="780.25" y1="214.5" x2="780.25" y2="232.3" stroke="#53b987"/><line x1="782.12" y1="212.6" x2="782.12" y2="220.3" stroke="#53b987"/><line x1="784.00" y1="214.7" x2="784.00" y2="223.1" stroke="#eb4d5c"/><line x1="785.88" y1="219.8" x2="785.88" y2="228.9" stroke="#eb4d5c"/><line x1="787.75" y1="211.5" x2="787.75" y2="231.5" stroke="#53b987"/><line x1="789.62" y1="218.3" x2="789.62" y2="233.5" stroke="#eb4d5c"/><line x1="791.50" y1="130.0" x2="791.50" y2="232.7" stroke="#53b987"/><line x1="793.38" y1="142.7" x2="793.38" y2="157.1" stroke="#eb4d5c"/><line x1="795.25" y1="145.1" x2="795.25" y2="159.9" stroke="#53b987"/><line x1="797.12" y1="140.9" x2="797.12" y2="161.5" stroke="#eb4d5c"/><line x1="799.00" y1="148.2" x2="799.00" y2="160.6" stroke="#53b987"/><line x1="800.88" y1="122.6" x2="800.88" y2="158.9" stroke="#53b987"/><line x1="802.75" y1="115.5" x2="802.75" y2="126.0" stroke="#53b987"/><line x1="804.62" y1="102.5" x2="804.62" y2="125.5" stroke="#53b987"/><line x1="806.50" y1="104.3" x2="806.50" y2="115.4" stroke="#eb4d5c"/><line x1="808.38" y1="112.3" x2="808.38" y2="131.9" stroke="#eb4d5c"/><line x1="810.25" y1="110.1" x2="810.25" y2="133.1" stroke="#53b987"/><line x1="812.12" y1="106.8" x2="812.12" y2="140.0" stroke="#eb4d5c"/><line x1="814.00" y1="97.0" x2="814.00" y2="131.4" stroke="#53b987"/><line x1="815.88" y1="101.8" x2="815.88" y2="129.2" stroke="#eb4d5c"/><line x1="817.75" y1="121.3" x2="817.75" y2="129.5" stroke="#eb4d5c"/><line x1="819.62" y1="123.7" x2="819.62" y2="132.0" stroke="#eb4d5c"/><line x1="821.50" y1="126.5" x2="821.50" y2="136.4" stroke="#eb4d5c"/><line x1="823.38" y1="115.1" x2="823.38" y2="130.4" stroke="#53b987"/><line x1="825.25" y1="108.9" x2="825.25" y2="122.1" stroke="#53b987"/><line x1="827.12" y1="110.1" x2="827.12" y2="117.7" stroke="#eb4d5c"/><line x1="829.00" y1="111.8" x2="829.00" y2="117.9" stroke="#eb4d5c"/><line x1="830.88" y1="104.0" x2="830.88" y2="117.8" stroke="#53b987"/><line x1="832.75" y1="88.8" x2="832.75" y2="112.8" stroke="#53b987"/><line x1="834.62" y1="86.2" x2="834.62" y2="99.4" stroke="#53b987"/><line x1="836.50" y1="90.0" x2="836.50" y2="126.8" stroke="#eb4d5c"/><line x1="838.38" y1="113.0" x2="838.38" y2="128.4" stroke="#53b987"/><line x1="840.25" y1="112.7" x2="840.25" y2="124.0" stroke="#eb4d5c"/><line x1="842.12" y1="117.2" x2="842.12" y2="122.3" stroke="#53b987"/><line x1="844.00" y1="92.1" x2="844.00" y2="119.7" stroke="#53b987"/><line x1="845.88" y1="86.0" x2="845.88" y2="101.6" stroke="#53b987"/><line x1="847.75" y1="67.3" x2="847.75" y2="90.9" stroke="#53b987"/><line x1="849.62" y1="78.0" x2="849.62" y2="111.4" stroke="#eb4d5c"/><line x1="851.50" y1="106.0" x2="851.50" y2="129.2" stroke="#eb4d5c"/><line x1="853.38" y1="123.4" x2="853.38" y2="128.7" stroke="#53b987"/><line x1="855.25" y1="123.7" x2="855.25" y2="147.6" stroke="#eb4d5c"/><line x1="857.12" y1="125.2" x2="857.12" y2="168.2" stroke="#eb4d5c"/><line x1="859.00" y1="147.0" x2="859.00" y2="167.8" stroke="#53b987"/><line x1="860.88" y1="133.2" x2="860.88" y2="156.9" stroke="#53b987"/><line x1="862.75" y1="128.8" x2="862.75" y2="151.7" stroke="#eb4d5c"/><line x1="864.62" y1="147.4" x2="864.62" y2="163.7" stroke="#eb4d5c"/><line x1="866.50" y1="160.7" x2="866.50" y2="176.2" stroke="#eb4d5c"/><line x1="868.38" y1="170.3" x2="868.38" y2="176.1" stroke="#53b987"/><line x1="870.25" y1="162.0" x2="870.25" y2="176.6" stroke="#53b987"/><line x1="872.12" y1="168.6" x2="872.12" y2="174.8" stroke="#eb4d5c"/><line x1="874.00" y1="164.8" x2="874.00" y2="174.1" stroke="#53b987"/><line x1="875.88" y1="165.6" x2="875.88" y2="171.4" stroke="#eb4d5c"/><line x1="877.75" y1="158.3" x2="877.75" y2="169.4" stroke="#53b987"/><line x1="879.62" y1="142.0" x2="879.62" y2="203.0" stroke="#eb4d5c"/><line x1="881.50" y1="168.3" x2="881.50" y2="198.8" stroke="#53b987"/><line x1="883.38" y1="163.5" x2="883.38" y2="177.6" stroke="#53b987"/><line x1="885.25" y1="153.8" x2="885.25" y2="169.2" stroke="#53b987"/><line x1="887.12" y1="153.7" x2="887.12" y2="162.7" stroke="#eb4d5c"/><line x1="889.00" y1="147.9" x2="889.00" y2="163.9" stroke="#53b987"/><line x1="890.88" y1="149.0" x2="890.88" y2="181.6" stroke="#eb4d5c"/><line x1="892.75" y1="177.0" x2="892.75" y2="182.9" stroke="#eb4d5c"/><line x1="894.62" y1="180.2" x2="894.62" y2="187.2" stroke="#eb4d5c"/></g>
<g><rect x="4.78" y="463.0" width="2.2" height="23.0" fill="#eb4d5c"/><rect x="6.65" y="483.0" width="2.2" height="3.0" fill="#53b987"/><rect x="8.53" y="483.0" width="2.2" height="23.0" fill="#eb4d5c"/><rect x="10.40" y="488.0" width="2.2" height="18.0" fill="#53b987"/><rect x="12.28" y="488.0" width="2.2" height="6.7" fill="#eb4d5c"/><rect x="14.15" y="494.7" width="2.2" height="6.7" fill="#eb4d5c"/><rect x="16.02" y="501.4" width="2.2" height="8.6" fill="#eb4d5c"/><rect x="17.90" y="510.0" width="2.2" height="5.8" fill="#eb4d5c"/><rect x="19.77" y="491.0" width="2.2" height="24.8" fill="#53b987"/><rect x="21.65" y="481.0" width="2.2" height="10.0" fill="#53b987"/><rect x="23.52" y="481.0" width="2.2" height="3.6" fill="#eb4d5c"/><rect x="25.40" y="484.6" width="2.2" height="8.4" fill="#eb4d5c"/><rect x="27.27" y="493.0" width="2.2" height="14.4" fill="#eb4d5c"/><rect x="29.15" y="507.4" width="2.2" height="32.2" fill="#eb4d5c"/><rect x="31.02" y="530.6" width="2.2" height="9.0" fill="#53b987"/><rect x="32.90" y="530.6" width="2.2" height="1.0" fill="#eb4d5c"/><rect x="34.77" y="530.6" width="2.2" height="6.7" fill="#eb4d5c"/><rect x="36.65" y="535.8" width="2.2" height="1.5" fill="#53b987"/><rect x="38.52" y="535.8" width="2.2" height="3.0" fill="#eb4d5c"/><rect x="40.40" y="538.8" width="2.2" height="1.5" fill="#eb4d5c"/><rect x="42.27" y="535.0" width="2.2" height="5.3" fill="#53b987"/><rect x="44.15" y="515.6" width="2.2" height="19.4" fill="#53b987"/><rect x="46.02" y="515.6" width="2.2" height="4.4" fill="#eb4d5c"/><rect x="47.90" y="520.0" width="2.2" height="16.6" fill="#eb4d5c"/><rect x="49.77" y="529.0" width="2.2" height="7.6" fill="#53b987"/><rect x="51.65" y="528.5" width="2.2" height="1.0" fill="#53b987"/><rect x="53.52" y="528.0" width="2.2" height="1.0" fill="#53b987"/><rect x="55.40" y="528.0" width="2.2" height="17.3" fill="#eb4d5c"/><rect x="57.27" y="545.3" width="2.2" height="17.3" fill="#eb4d5c"/><rect x="59.15" y="558.0" width="2.2" height="4.6" fill="#53b987"/><rect x="61.02" y="549.0" width="2.2" height="9.0" fill="#53b987"/><rect x="62.90" y="549.0" width="2.2" height="5.0" fill="#eb4d5c"/><rect x="64.78" y="549.0" width="2.2" height="5.0" fill="#53b987"/><rect x="66.65" y="549.0" width="2.2" height="3.0" fill="#eb4d5c"/><rect x="68.53" y="552.0" width="2.2" height="11.0" fill="#eb4d5c"/><rect x="70.40" y="561.0" width="2.2" height="2.0" fill="#53b987"/><rect x="72.28" y="560.0" width="2.2" height="12.0" fill="#53b987"/><rect x="74.15" y="560.0" width="2.2" height="1.0" fill="#eb4d5c"/><rect x="76.03" y="560.0" width="2.2" height="1.0" fill="#eb4d5c"/><rect x="77.90" y="560.0" width="2.2" height="6.0" fill="#eb4d5c"/><rect x="79.78" y="566.0" width="2.2" height="6.0" fill="#eb4d5c"/><rect x="81.65" y="572.0" width="2.2" height="14.6" fill="#eb4d5c"/><rect x="83.53" y="573.0" width="2.2" height="5.0" fill="#eb4d5c"/><rect x="85.40" y="563.0" width="2.2" height="15.0" fill="#53b987"/><rect x="87.28" y="559.0" width="2.2" height="4.0" fill="#53b987"/><rect x="89.15" y="553.0" width="2.2" height="6.0" fill="#53b987"/><rect x="91.03" y="548.0" width="2.2" height="5.0" fill="#53b987"/><rect x="92.90" y="548.0" width="2.2" height="2.0" fill="#eb4d5c"/><rect x="94.78" y="548.0" width="2.2" height="2.0" fill="#53b987"/><rect x="96.65" y="548.0" width="2.2" height="10.0" fill="#eb4d5c"/><rect x="98.53" y="558.0" width="2.2" height="24.0" fill="#eb4d5c"/><rect x="100.40" y="577.0" width="2.2" height="5.0" fill="#53b987"/><rect x="102.28" y="572.0" width="2.2" height="5.0" fill="#53b987"/><rect x="104.15" y="570.0" width="2.2" height="2.0" fill="#53b987"/><rect x="106.03" y="570.0" width="2.2" height="4.0" fill="#eb4d5c"/><rect x="107.90" y="569.0" width="2.2" height="5.0" fill="#53b987"/><rect x="109.78" y="567.0" width="2.2" height="2.0" fill="#53b987"/><rect x="111.65" y="567.0" width="2.2" height="1.0" fill="#eb4d5c"/><rect x="113.53" y="541.0" width="2.2" height="27.0" fill="#53b987"/><rect x="115.40" y="532.0" width="2.2" height="9.0" fill="#53b987"/><rect x="117.28" y="523.0" width="2.2" height="9.0" fill="#53b987"/><rect x="119.15" y="518.5" width="2.2" height="13.5" fill="#53b987"/><rect x="121.03" y="513.6" width="2.2" height="4.9" fill="#53b987"/><rect x="122.90" y="513.6" width="2.2" height="3.9" fill="#eb4d5c"/><rect x="124.78" y="514.0" width="2.2" height="7.5" fill="#eb4d5c"/><rect x="126.65" y="521.0" width="2.2" height="1.0" fill="#53b987"/><rect x="128.53" y="521.0" width="2.2" height="4.7" fill="#eb4d5c"/><rect x="130.40" y="525.7" width="2.2" height="1.3" fill="#eb4d5c"/><rect x="132.28" y="527.0" width="2.2" height="7.0" fill="#eb4d5c"/><rect x="134.15" y="534.0" width="2.2" height="1.0" fill="#eb4d5c"/><rect x="136.03" y="535.0" width="2.2" height="1.0" fill="#53b987"/><rect x="137.90" y="535.0" width="2.2" height="3.5" fill="#eb4d5c"/><rect x="139.78" y="538.5" width="2.2" height="3.5" fill="#eb4d5c"/><rect x="141.65" y="533.0" width="2.2" height="9.0" fill="#53b987"/><rect x="143.53" y="527.5" width="2.2" height="5.5" fill="#53b987"/><rect x="145.40" y="527.5" width="2.2" height="17.5" fill="#eb4d5c"/><rect x="147.28" y="528.0" width="2.2" height="17.0" fill="#53b987"/><rect x="149.15" y="528.0" width="2.2" height="7.0" fill="#eb4d5c"/><rect x="151.03" y="534.0" width="2.2" height="1.0" fill="#53b987"/><rect x="152.90" y="534.0" width="2.2" height="2.5" fill="#eb4d5c"/><rect x="154.78" y="536.5" width="2.2" height="2.5" fill="#eb4d5c"/><rect x="156.65" y="537.0" width="2.2" height="2.0" fill="#53b987"/><rect x="158.53" y="499.8" width="2.2" height="37.2" fill="#53b987"/><rect x="160.40" y="499.8" width="2.2" height="1.0" fill="#eb4d5c"/><rect x="162.28" y="491.7" width="2.2" height="9.9" fill="#eb4d5c"/><rect x="164.15" y="501.6" width="2.2" height="1.0" fill="#eb4d5c"/><rect x="166.03" y="499.4" width="2.2" height="3.1" fill="#53b987"/><rect x="167.90" y="499.4" width="2.2" height="1.0" fill="#eb4d5c"/><rect x="169.78" y="500.0" width="2.2" height="4.9" fill="#eb4d5c"/><rect x="171.65" y="504.9" width="2.2" height="4.8" fill="#eb4d5c"/><rect x="173.53" y="509.7" width="2.2" height="14.9" fill="#eb4d5c"/><rect x="175.40" y="510.6" width="2.2" height="14.0" fill="#53b987"/><rect x="177.28" y="502.5" width="2.2" height="8.1" fill="#53b987"/><rect x="179.15" y="502.5" width="2.2" height="9.5" fill="#eb4d5c"/><rect x="181.03" y="512.0" width="2.2" height="2.7" fill="#eb4d5c"/><rect x="182.90" y="510.9" width="2.2" height="3.9" fill="#53b987"/><rect x="184.78" y="507.0" width="2.2" height="3.9" fill="#53b987"/><rect x="186.65" y="507.0" width="2.2" height="5.0" fill="#eb4d5c"/><rect x="188.53" y="500.3" width="2.2" height="26.1" fill="#eb4d5c"/><rect x="190.40" y="522.7" width="2.2" height="3.7" fill="#53b987"/><rect x="192.28" y="519.0" width="2.2" height="3.7" fill="#53b987"/><rect x="194.15" y="505.0" width="2.2" height="14.0" fill="#53b987"/><rect x="196.03" y="512.0" width="2.2" height="1.0" fill="#53b987"/><rect x="197.90" y="509.0" width="2.2" height="3.0" fill="#53b987"/><rect x="199.78" y="506.0" width="2.2" height="3.0" fill="#53b987"/><rect x="201.65" y="501.0" width="2.2" height="5.0" fill="#53b987"/><rect x="203.53" y="497.6" width="2.2" height="3.4" fill="#53b987"/><rect x="205.40" y="494.4" width="2.2" height="3.2" fill="#53b987"/><rect x="207.28" y="452.0" width="2.2" height="42.4" fill="#53b987"/><rect x="209.15" y="452.0" width="2.2" height="10.0" fill="#eb4d5c"/><rect x="211.03" y="462.0" width="2.2" height="7.3" fill="#eb4d5c"/><rect x="212.90" y="464.5" width="2.2" height="1.0" fill="#eb4d5c"/><rect x="214.78" y="465.2" width="2.2" height="1.0" fill="#eb4d5c"/><rect x="216.65" y="466.0" width="2.2" height="21.3" fill="#eb4d5c"/><rect x="218.53" y="469.3" width="2.2" height="9.7" fill="#53b987"/><rect x="220.40" y="468.0" width="2.2" height="1.3" fill="#53b987"/><rect x="222.28" y="461.5" width="2.2" height="6.5" fill="#53b987"/><rect x="224.15" y="461.5" width="2.2" height="4.2" fill="#eb4d5c"/><rect x="226.03" y="465.7" width="2.2" height="2.3" fill="#eb4d5c"/><rect x="227.90" y="455.5" width="2.2" height="12.5" fill="#53b987"/><rect x="229.78" y="439.0" width="2.2" height="16.5" fill="#53b987"/><rect x="231.65" y="439.0" width="2.2" height="16.0" fill="#eb4d5c"/><rect x="233.53" y="455.0" width="2.2" height="13.7" fill="#eb4d5c"/><rect x="235.40" y="468.7" width="2.2" height="18.0" fill="#eb4d5c"/><rect x="237.28" y="475.3" width="2.2" height="11.4" fill="#53b987"/><rect x="239.15" y="472.3" width="2.2" height="3.0" fill="#53b987"/><rect x="241.03" y="464.5" width="2.2" height="7.8" fill="#53b987"/><rect x="242.90" y="464.5" width="2.2" height="4.8" fill="#eb4d5c"/><rect x="244.78" y="443.0" width="2.2" height="1.9" fill="#eb4d5c"/><rect x="246.65" y="441.0" width="2.2" height="3.9" fill="#53b987"/><rect x="248.53" y="424.8" width="2.2" height="16.2" fill="#53b987"/><rect x="250.40" y="424.8" width="2.2" height="10.2" fill="#eb4d5c"/><rect x="252.28" y="435.0" width="2.2" height="2.5" fill="#eb4d5c"/><rect x="254.15" y="437.0" width="2.2" height="1.0" fill="#53b987"/><rect x="256.02" y="437.0" width="2.2" height="1.0" fill="#53b987"/><rect x="257.90" y="437.0" width="2.2" height="1.0" fill="#eb4d5c"/><rect x="259.77" y="437.5" width="2.2" height="1.0" fill="#eb4d5c"/><rect x="261.65" y="418.0" width="2.2" height="20.0" fill="#53b987"/><rect x="263.52" y="404.0" width="2.2" height="14.0" fill="#53b987"/><rect x="265.40" y="371.0" width="2.2" height="33.0" fill="#53b987"/><rect x="267.27" y="368.0" width="2.2" height="3.0" fill="#53b987"/><rect x="269.15" y="368.0" width="2.2" height="8.8" fill="#eb4d5c"/><rect x="271.02" y="372.4" width="2.2" height="4.4" fill="#53b987"/><rect x="272.90" y="368.0" width="2.2" height="4.4" fill="#53b987"/><rect x="274.77" y="331.0" width="2.2" height="37.0" fill="#53b987"/><rect x="276.65" y="299.0" width="2.2" height="32.0" fill="#53b987"/><rect x="278.52" y="291.8" width="2.2" height="7.2" fill="#53b987"/><rect x="280.40" y="284.5" width="2.2" height="7.2" fill="#53b987"/><rect x="282.27" y="284.5" width="2.2" height="12.1" fill="#eb4d5c"/><rect x="284.15" y="283.0" width="2.2" height="13.6" fill="#53b987"/><rect x="286.02" y="283.0" width="2.2" height="5.0" fill="#eb4d5c"/><rect x="287.90" y="287.0" width="2.2" height="1.0" fill="#53b987"/><rect x="289.77" y="286.0" width="2.2" height="1.0" fill="#53b987"/><rect x="291.65" y="286.0" width="2.2" height="6.0" fill="#eb4d5c"/><rect x="293.52" y="275.0" width="2.2" height="17.0" fill="#53b987"/><rect x="295.40" y="275.0" width="2.2" height="3.4" fill="#eb4d5c"/><rect x="297.27" y="268.2" width="2.2" height="10.2" fill="#53b987"/><rect x="299.15" y="268.2" width="2.2" height="10.2" fill="#eb4d5c"/><rect x="301.02" y="269.0" width="2.2" height="9.4" fill="#53b987"/><rect x="302.90" y="269.0" width="2.2" height="2.6" fill="#eb4d5c"/><rect x="304.77" y="256.0" width="2.2" height="15.6" fill="#53b987"/><rect x="306.65" y="256.0" width="2.2" height="1.0" fill="#eb4d5c"/><rect x="308.52" y="256.0" width="2.2" height="11.6" fill="#eb4d5c"/><rect x="310.40" y="264.8" width="2.2" height="2.8" fill="#53b987"/><rect x="312.27" y="262.0" width="2.2" height="2.8" fill="#53b987"/><rect x="314.15" y="262.0" width="2.2" height="9.6" fill="#eb4d5c"/><rect x="316.02" y="271.6" width="2.2" height="1.0" fill="#eb4d5c"/><rect x="317.90" y="238.0" width="2.2" height="33.7" fill="#53b987"/><rect x="319.77" y="222.0" width="2.2" height="16.0" fill="#53b987"/><rect x="321.65" y="208.0" width="2.2" height="14.0" fill="#53b987"/><rect x="323.52" y="208.0" width="2.2" height="23.0" fill="#eb4d5c"/><rect x="325.40" y="231.0" width="2.2" height="53.0" fill="#eb4d5c"/><rect x="327.27" y="284.0" width="2.2" height="13.0" fill="#eb4d5c"/><rect x="329.15" y="279.0" width="2.2" height="18.0" fill="#53b987"/><rect x="331.02" y="269.0" width="2.2" height="10.0" fill="#53b987"/><rect x="332.90" y="265.0" width="2.2" height="4.0" fill="#53b987"/><rect x="334.77" y="261.0" width="2.2" height="6.0" fill="#53b987"/><rect x="336.65" y="261.0" width="2.2" height="9.0" fill="#eb4d5c"/><rect x="338.52" y="255.0" width="2.2" height="15.0" fill="#53b987"/><rect x="340.40" y="250.0" width="2.2" height="5.0" fill="#53b987"/><rect x="342.27" y="250.0" width="2.2" height="2.2" fill="#eb4d5c"/><rect x="344.15" y="252.2" width="2.2" height="2.2" fill="#eb4d5c"/><rect x="346.02" y="234.6" width="2.2" height="19.8" fill="#53b987"/><rect x="347.90" y="230.5" width="2.2" height="4.1" fill="#53b987"/><rect x="349.77" y="225.5" width="2.2" height="5.0" fill="#53b987"/><rect x="351.65" y="209.0" width="2.2" height="16.5" fill="#53b987"/><rect x="353.52" y="195.0" width="2.2" height="14.0" fill="#53b987"/><rect x="355.40" y="195.0" width="2.2" height="28.0" fill="#eb4d5c"/><rect x="357.27" y="223.0" width="2.2" height="5.0" fill="#eb4d5c"/><rect x="359.15" y="216.0" width="2.2" height="12.0" fill="#53b987"/><rect x="361.02" y="200.0" width="2.2" height="16.0" fill="#53b987"/><rect x="362.90" y="204.0" width="2.2" height="7.8" fill="#eb4d5c"/><rect x="364.77" y="211.8" width="2.2" height="7.8" fill="#eb4d5c"/><rect x="366.65" y="186.0" width="2.2" height="33.7" fill="#53b987"/><rect x="368.52" y="180.6" width="2.2" height="5.4" fill="#53b987"/><rect x="370.40" y="180.6" width="2.2" height="16.4" fill="#eb4d5c"/><rect x="372.27" y="175.8" width="2.2" height="21.2" fill="#53b987"/><rect x="374.15" y="174.0" width="2.2" height="5.4" fill="#53b987"/><rect x="376.02" y="167.4" width="2.2" height="6.6" fill="#53b987"/><rect x="377.90" y="167.4" width="2.2" height="2.1" fill="#eb4d5c"/><rect x="379.77" y="169.5" width="2.2" height="2.1" fill="#eb4d5c"/><rect x="381.65" y="169.0" width="2.2" height="2.6" fill="#53b987"/><rect x="383.52" y="169.0" width="2.2" height="5.6" fill="#eb4d5c"/><rect x="385.40" y="169.0" width="2.2" height="5.6" fill="#53b987"/><rect x="387.27" y="169.0" width="2.2" height="6.2" fill="#eb4d5c"/><rect x="389.15" y="175.2" width="2.2" height="13.3" fill="#eb4d5c"/><rect x="391.02" y="180.6" width="2.2" height="7.9" fill="#53b987"/><rect x="392.90" y="180.6" width="2.2" height="1.4" fill="#eb4d5c"/><rect x="394.77" y="179.8" width="2.2" height="2.2" fill="#53b987"/><rect x="396.65" y="177.6" width="2.2" height="10.3" fill="#53b987"/><rect x="398.52" y="177.6" width="2.2" height="1.0" fill="#53b987"/><rect x="400.40" y="177.6" width="2.2" height="9.7" fill="#eb4d5c"/><rect x="402.27" y="187.3" width="2.2" height="14.4" fill="#eb4d5c"/><rect x="404.15" y="201.7" width="2.2" height="4.9" fill="#eb4d5c"/><rect x="406.02" y="206.6" width="2.2" height="2.0" fill="#eb4d5c"/><rect x="407.90" y="192.8" width="2.2" height="15.8" fill="#53b987"/><rect x="409.77" y="177.0" width="2.2" height="27.0" fill="#53b987"/><rect x="411.65" y="177.0" width="2.2" height="10.0" fill="#eb4d5c"/><rect x="413.52" y="187.0" width="2.2" height="16.0" fill="#eb4d5c"/><rect x="415.40" y="187.0" width="2.2" height="16.0" fill="#53b987"/><rect x="417.27" y="179.0" width="2.2" height="8.0" fill="#53b987"/><rect x="419.15" y="177.6" width="2.2" height="1.4" fill="#53b987"/><rect x="421.02" y="177.6" width="2.2" height="9.4" fill="#eb4d5c"/><rect x="422.90" y="183.0" width="2.2" height="4.0" fill="#53b987"/><rect x="424.77" y="179.0" width="2.2" height="4.0" fill="#53b987"/><rect x="426.65" y="179.0" width="2.2" height="1.0" fill="#53b987"/><rect x="428.52" y="179.0" width="2.2" height="8.0" fill="#eb4d5c"/><rect x="430.40" y="187.0" width="2.2" height="5.4" fill="#eb4d5c"/><rect x="432.27" y="192.4" width="2.2" height="18.3" fill="#eb4d5c"/><rect x="434.15" y="210.7" width="2.2" height="1.0" fill="#eb4d5c"/><rect x="436.02" y="207.3" width="2.2" height="3.7" fill="#53b987"/><rect x="437.90" y="206.0" width="2.2" height="1.3" fill="#53b987"/><rect x="439.77" y="195.8" width="2.2" height="10.2" fill="#53b987"/><rect x="441.65" y="185.7" width="2.2" height="10.1" fill="#53b987"/><rect x="443.52" y="171.5" width="2.2" height="14.2" fill="#53b987"/><rect x="445.40" y="171.5" width="2.2" height="3.5" fill="#eb4d5c"/><rect x="447.27" y="175.0" width="2.2" height="11.3" fill="#eb4d5c"/><rect x="449.15" y="184.0" width="2.2" height="2.3" fill="#53b987"/><rect x="451.02" y="184.0" width="2.2" height="1.0" fill="#eb4d5c"/><rect x="452.90" y="185.0" width="2.2" height="17.5" fill="#eb4d5c"/><rect x="454.77" y="202.5" width="2.2" height="21.8" fill="#eb4d5c"/><rect x="456.65" y="217.6" width="2.2" height="6.7" fill="#53b987"/><rect x="458.52" y="217.6" width="2.2" height="6.0" fill="#eb4d5c"/><rect x="460.40" y="221.0" width="2.2" height="2.6" fill="#53b987"/><rect x="462.27" y="221.0" width="2.2" height="12.3" fill="#eb4d5c"/><rect x="464.15" y="227.3" width="2.2" height="6.0" fill="#53b987"/><rect x="466.02" y="227.3" width="2.2" height="6.7" fill="#eb4d5c"/><rect x="467.90" y="229.5" width="2.2" height="4.5" fill="#53b987"/><rect x="469.77" y="225.0" width="2.2" height="4.5" fill="#53b987"/><rect x="471.65" y="213.0" width="2.2" height="12.0" fill="#53b987"/><rect x="473.52" y="220.6" width="2.2" height="3.7" fill="#eb4d5c"/><rect x="475.40" y="217.0" width="2.2" height="7.3" fill="#53b987"/><rect x="477.27" y="215.0" width="2.2" height="2.0" fill="#53b987"/><rect x="479.15" y="214.0" width="2.2" height="1.0" fill="#53b987"/><rect x="481.02" y="213.0" width="2.2" height="1.0" fill="#53b987"/><rect x="482.90" y="212.0" width="2.2" height="1.0" fill="#53b987"/><rect x="484.77" y="211.0" width="2.2" height="1.0" fill="#53b987"/><rect x="486.65" y="193.5" width="2.2" height="17.5" fill="#53b987"/><rect x="488.52" y="185.3" width="2.2" height="8.2" fill="#53b987"/><rect x="490.40" y="185.3" width="2.2" height="9.7" fill="#eb4d5c"/><rect x="492.27" y="192.0" width="2.2" height="3.0" fill="#53b987"/><rect x="494.15" y="175.0" width="2.2" height="17.0" fill="#53b987"/><rect x="496.02" y="175.0" width="2.2" height="8.0" fill="#eb4d5c"/><rect x="497.90" y="182.0" width="2.2" height="1.0" fill="#53b987"/><rect x="499.77" y="181.0" width="2.2" height="1.0" fill="#53b987"/><rect x="501.65" y="165.0" width="2.2" height="16.0" fill="#53b987"/><rect x="503.52" y="165.0" width="2.2" height="51.7" fill="#eb4d5c"/><rect x="505.40" y="197.0" width="2.2" height="19.7" fill="#53b987"/><rect x="507.27" y="188.5" width="2.2" height="8.5" fill="#53b987"/><rect x="509.15" y="183.7" width="2.2" height="4.8" fill="#53b987"/><rect x="511.02" y="183.0" width="2.2" height="1.0" fill="#53b987"/><rect x="512.90" y="183.0" width="2.2" height="5.2" fill="#eb4d5c"/><rect x="514.77" y="188.2" width="2.2" height="5.2" fill="#eb4d5c"/><rect x="516.65" y="191.0" width="2.2" height="2.3" fill="#53b987"/><rect x="518.52" y="188.0" width="2.2" height="3.0" fill="#53b987"/><rect x="520.40" y="182.5" width="2.2" height="5.5" fill="#53b987"/><rect x="522.27" y="177.6" width="2.2" height="4.9" fill="#53b987"/><rect x="524.15" y="176.0" width="2.2" height="1.6" fill="#53b987"/><rect x="526.02" y="174.0" width="2.2" height="2.0" fill="#53b987"/><rect x="527.90" y="173.5" width="2.2" height="1.0" fill="#53b987"/><rect x="529.77" y="173.0" width="2.2" height="1.0" fill="#53b987"/><rect x="531.65" y="157.8" width="2.2" height="15.2" fill="#53b987"/><rect x="533.52" y="142.0" width="2.2" height="15.8" fill="#53b987"/><rect x="535.40" y="131.0" width="2.2" height="11.0" fill="#53b987"/><rect x="537.27" y="128.7" width="2.2" height="2.3" fill="#53b987"/><rect x="539.15" y="128.7" width="2.2" height="2.9" fill="#eb4d5c"/><rect x="541.02" y="122.0" width="2.2" height="9.6" fill="#53b987"/><rect x="542.90" y="114.7" width="2.2" height="7.3" fill="#53b987"/><rect x="544.77" y="112.0" width="2.2" height="2.7" fill="#53b987"/><rect x="546.65" y="112.0" width="2.2" height="10.0" fill="#eb4d5c"/><rect x="548.52" y="122.0" width="2.2" height="17.0" fill="#eb4d5c"/><rect x="550.40" y="118.8" width="2.2" height="20.2" fill="#53b987"/><rect x="552.27" y="103.2" width="2.2" height="15.6" fill="#53b987"/><rect x="554.15" y="89.0" width="2.2" height="14.2" fill="#53b987"/><rect x="556.02" y="89.0" width="2.2" height="4.0" fill="#eb4d5c"/><rect x="557.90" y="93.0" width="2.2" height="2.8" fill="#eb4d5c"/><rect x="559.77" y="85.0" width="2.2" height="10.8" fill="#53b987"/><rect x="561.65" y="85.0" width="2.2" height="6.0" fill="#eb4d5c"/><rect x="563.52" y="91.0" width="2.2" height="11.0" fill="#eb4d5c"/><rect x="565.40" y="102.0" width="2.2" height="21.5" fill="#eb4d5c"/><rect x="567.27" y="120.8" width="2.2" height="2.7" fill="#53b987"/><rect x="569.15" y="114.0" width="2.2" height="6.8" fill="#53b987"/><rect x="571.02" y="104.6" width="2.2" height="9.4" fill="#53b987"/><rect x="572.90" y="99.8" width="2.2" height="4.8" fill="#53b987"/><rect x="574.77" y="95.0" width="2.2" height="4.8" fill="#53b987"/><rect x="576.65" y="95.0" width="2.2" height="9.6" fill="#eb4d5c"/><rect x="578.52" y="100.5" width="2.2" height="4.1" fill="#53b987"/><rect x="580.40" y="96.5" width="2.2" height="4.0" fill="#53b987"/><rect x="582.27" y="96.5" width="2.2" height="2.5" fill="#eb4d5c"/><rect x="584.15" y="99.0" width="2.2" height="4.5" fill="#eb4d5c"/><rect x="586.02" y="103.5" width="2.2" height="4.5" fill="#eb4d5c"/><rect x="587.90" y="90.5" width="2.2" height="17.5" fill="#53b987"/><rect x="589.77" y="73.0" width="2.2" height="17.5" fill="#53b987"/><rect x="591.65" y="73.0" width="2.2" height="12.7" fill="#eb4d5c"/><rect x="593.52" y="85.7" width="2.2" height="7.3" fill="#eb4d5c"/><rect x="595.40" y="93.0" width="2.2" height="2.0" fill="#eb4d5c"/><rect x="597.27" y="95.0" width="2.2" height="19.0" fill="#eb4d5c"/><rect x="599.15" y="82.3" width="2.2" height="31.7" fill="#53b987"/><rect x="601.02" y="82.3" width="2.2" height="16.7" fill="#eb4d5c"/><rect x="602.90" y="98.0" width="2.2" height="1.0" fill="#53b987"/><rect x="604.77" y="97.0" width="2.2" height="1.0" fill="#53b987"/><rect x="606.65" y="96.0" width="2.2" height="1.0" fill="#53b987"/><rect x="608.52" y="96.0" width="2.2" height="1.0" fill="#eb4d5c"/><rect x="610.40" y="96.0" width="2.2" height="25.0" fill="#eb4d5c"/><rect x="612.27" y="121.0" width="2.2" height="10.6" fill="#eb4d5c"/><rect x="614.15" y="125.0" width="2.2" height="6.6" fill="#53b987"/><rect x="616.02" y="125.0" width="2.2" height="1.0" fill="#eb4d5c"/><rect x="617.90" y="125.0" width="2.2" height="3.0" fill="#eb4d5c"/><rect x="619.77" y="128.0" width="2.2" height="6.3" fill="#eb4d5c"/><rect x="621.65" y="125.5" width="2.2" height="8.8" fill="#53b987"/><rect x="623.52" y="125.5" width="2.2" height="3.5" fill="#eb4d5c"/><rect x="625.40" y="129.0" width="2.2" height="20.0" fill="#eb4d5c"/><rect x="627.27" y="149.0" width="2.2" height="19.0" fill="#eb4d5c"/><rect x="629.15" y="168.0" width="2.2" height="32.0" fill="#eb4d5c"/><rect x="631.02" y="193.0" width="2.2" height="7.0" fill="#53b987"/><rect x="632.90" y="178.0" width="2.2" height="15.0" fill="#53b987"/><rect x="634.77" y="178.0" width="2.2" height="50.0" fill="#eb4d5c"/><rect x="636.65" y="220.0" width="2.2" height="8.0" fill="#53b987"/><rect x="638.52" y="212.0" width="2.2" height="8.0" fill="#53b987"/><rect x="640.40" y="198.5" width="2.2" height="13.5" fill="#53b987"/><rect x="642.27" y="198.5" width="2.2" height="5.5" fill="#eb4d5c"/><rect x="644.15" y="204.0" width="2.2" height="3.5" fill="#eb4d5c"/><rect x="646.02" y="207.5" width="2.2" height="1.2" fill="#eb4d5c"/><rect x="647.90" y="208.8" width="2.2" height="1.2" fill="#eb4d5c"/><rect x="649.77" y="210.0" width="2.2" height="9.0" fill="#eb4d5c"/><rect x="651.65" y="208.0" width="2.2" height="11.0" fill="#53b987"/><rect x="653.52" y="208.0" width="2.2" height="12.8" fill="#eb4d5c"/><rect x="655.40" y="220.8" width="2.2" height="12.8" fill="#eb4d5c"/><rect x="657.27" y="233.6" width="2.2" height="5.4" fill="#eb4d5c"/><rect x="659.15" y="220.0" width="2.2" height="19.0" fill="#53b987"/><rect x="661.02" y="220.0" width="2.2" height="1.0" fill="#53b987"/><rect x="662.90" y="218.2" width="2.2" height="1.8" fill="#53b987"/><rect x="664.77" y="216.5" width="2.2" height="1.8" fill="#53b987"/><rect x="666.65" y="216.5" width="2.2" height="11.5" fill="#eb4d5c"/><rect x="668.52" y="219.0" width="2.2" height="9.0" fill="#53b987"/><rect x="670.40" y="219.0" width="2.2" height="1.0" fill="#53b987"/><rect x="672.27" y="219.0" width="2.2" height="22.7" fill="#eb4d5c"/><rect x="674.15" y="241.7" width="2.2" height="3.3" fill="#eb4d5c"/><rect x="676.02" y="245.0" width="2.2" height="24.6" fill="#eb4d5c"/><rect x="677.90" y="206.0" width="2.2" height="63.6" fill="#53b987"/><rect x="679.77" y="206.0" width="2.2" height="12.8" fill="#eb4d5c"/><rect x="681.65" y="208.6" width="2.2" height="10.2" fill="#53b987"/><rect x="683.52" y="208.6" width="2.2" height="33.1" fill="#eb4d5c"/><rect x="685.40" y="230.2" width="2.2" height="11.4" fill="#53b987"/><rect x="687.27" y="218.8" width="2.2" height="11.4" fill="#53b987"/><rect x="689.15" y="218.8" width="2.2" height="3.0" fill="#eb4d5c"/><rect x="691.02" y="221.8" width="2.2" height="6.1" fill="#eb4d5c"/><rect x="692.90" y="219.4" width="2.2" height="8.5" fill="#53b987"/><rect x="694.77" y="219.4" width="2.2" height="3.1" fill="#eb4d5c"/><rect x="696.65" y="214.0" width="2.2" height="8.5" fill="#53b987"/><rect x="698.52" y="214.0" width="2.2" height="38.5" fill="#eb4d5c"/><rect x="700.40" y="247.7" width="2.2" height="4.8" fill="#53b987"/><rect x="702.27" y="243.0" width="2.2" height="4.7" fill="#53b987"/><rect x="704.15" y="240.0" width="2.2" height="3.0" fill="#53b987"/><rect x="706.02" y="209.2" width="2.2" height="30.8" fill="#53b987"/><rect x="707.90" y="205.3" width="2.2" height="3.9" fill="#53b987"/><rect x="709.77" y="201.4" width="2.2" height="6.6" fill="#53b987"/><rect x="711.65" y="201.4" width="2.2" height="4.2" fill="#eb4d5c"/><rect x="713.52" y="190.0" width="2.2" height="15.6" fill="#53b987"/><rect x="715.40" y="187.6" width="2.2" height="2.4" fill="#53b987"/><rect x="717.27" y="187.6" width="2.2" height="3.9" fill="#eb4d5c"/><rect x="719.15" y="173.0" width="2.2" height="18.5" fill="#53b987"/><rect x="721.02" y="173.0" width="2.2" height="18.0" fill="#eb4d5c"/><rect x="722.90" y="175.0" width="2.2" height="16.0" fill="#53b987"/><rect x="724.77" y="175.0" width="2.2" height="21.0" fill="#eb4d5c"/><rect x="726.65" y="196.0" width="2.2" height="15.5" fill="#eb4d5c"/><rect x="728.52" y="211.5" width="2.2" height="13.5" fill="#eb4d5c"/><rect x="730.40" y="225.0" width="2.2" height="4.5" fill="#eb4d5c"/><rect x="732.27" y="229.5" width="2.2" height="4.5" fill="#eb4d5c"/><rect x="734.15" y="227.3" width="2.2" height="6.7" fill="#53b987"/><rect x="736.02" y="221.3" width="2.2" height="8.7" fill="#53b987"/><rect x="737.90" y="221.3" width="2.2" height="1.1" fill="#eb4d5c"/><rect x="739.77" y="222.4" width="2.2" height="1.1" fill="#eb4d5c"/><rect x="741.65" y="214.5" width="2.2" height="9.0" fill="#53b987"/><rect x="743.52" y="214.5" width="2.2" height="39.5" fill="#eb4d5c"/><rect x="745.40" y="247.8" width="2.2" height="6.2" fill="#53b987"/><rect x="747.27" y="241.6" width="2.2" height="6.2" fill="#53b987"/><rect x="749.15" y="241.6" width="2.2" height="2.2" fill="#eb4d5c"/><rect x="751.02" y="234.0" width="2.2" height="9.8" fill="#53b987"/><rect x="752.90" y="228.8" width="2.2" height="5.2" fill="#53b987"/><rect x="754.77" y="228.8" width="2.2" height="3.8" fill="#eb4d5c"/><rect x="756.65" y="232.6" width="2.2" height="15.7" fill="#eb4d5c"/><rect x="758.52" y="229.6" width="2.2" height="18.7" fill="#53b987"/><rect x="760.40" y="229.6" width="2.2" height="23.4" fill="#eb4d5c"/><rect x="762.27" y="245.0" width="2.2" height="8.0" fill="#53b987"/><rect x="764.15" y="236.0" width="2.2" height="9.0" fill="#53b987"/><rect x="766.02" y="218.5" width="2.2" height="17.5" fill="#53b987"/><rect x="767.90" y="197.0" width="2.2" height="21.5" fill="#53b987"/><rect x="769.77" y="197.0" width="2.2" height="2.0" fill="#eb4d5c"/><rect x="771.65" y="199.0" width="2.2" height="10.0" fill="#eb4d5c"/><rect x="773.52" y="209.0" width="2.2" height="18.3" fill="#eb4d5c"/><rect x="775.40" y="227.3" width="2.2" height="1.7" fill="#eb4d5c"/><rect x="777.27" y="229.0" width="2.2" height="2.4" fill="#eb4d5c"/><rect x="779.15" y="216.5" width="2.2" height="14.9" fill="#53b987"/><rect x="781.02" y="216.0" width="2.2" height="1.0" fill="#53b987"/><rect x="782.90" y="216.0" width="2.2" height="6.0" fill="#eb4d5c"/><rect x="784.77" y="222.0" width="2.2" height="6.0" fill="#eb4d5c"/><rect x="786.65" y="220.0" width="2.2" height="8.0" fill="#53b987"/><rect x="788.52" y="220.0" width="2.2" height="11.4" fill="#eb4d5c"/><rect x="790.40" y="145.3" width="2.2" height="86.1" fill="#53b987"/><rect x="792.27" y="145.3" width="2.2" height="10.7" fill="#eb4d5c"/><rect x="794.15" y="149.0" width="2.2" height="7.0" fill="#53b987"/><rect x="796.02" y="149.0" width="2.2" height="9.8" fill="#eb4d5c"/><rect x="797.90" y="152.0" width="2.2" height="6.8" fill="#53b987"/><rect x="799.77" y="123.5" width="2.2" height="28.5" fill="#53b987"/><rect x="801.65" y="117.5" width="2.2" height="6.0" fill="#53b987"/><rect x="803.52" y="110.0" width="2.2" height="7.5" fill="#53b987"/><rect x="805.40" y="110.0" width="2.2" height="3.8" fill="#eb4d5c"/><rect x="807.27" y="113.8" width="2.2" height="15.7" fill="#eb4d5c"/><rect x="809.15" y="116.0" width="2.2" height="13.5" fill="#53b987"/><rect x="811.02" y="116.0" width="2.2" height="12.8" fill="#eb4d5c"/><rect x="812.90" y="108.0" width="2.2" height="20.8" fill="#53b987"/><rect x="814.77" y="108.0" width="2.2" height="14.8" fill="#eb4d5c"/><rect x="816.65" y="122.8" width="2.2" height="4.5" fill="#eb4d5c"/><rect x="818.52" y="127.3" width="2.2" height="1.1" fill="#eb4d5c"/><rect x="820.40" y="128.4" width="2.2" height="1.1" fill="#eb4d5c"/><rect x="822.27" y="118.3" width="2.2" height="11.2" fill="#53b987"/><rect x="824.15" y="111.5" width="2.2" height="6.8" fill="#53b987"/><rect x="826.02" y="111.5" width="2.2" height="1.5" fill="#eb4d5c"/><rect x="827.90" y="113.0" width="2.2" height="2.3" fill="#eb4d5c"/><rect x="829.77" y="111.5" width="2.2" height="3.8" fill="#53b987"/><rect x="831.65" y="96.0" width="2.2" height="15.5" fill="#53b987"/><rect x="833.52" y="92.3" width="2.2" height="3.7" fill="#53b987"/><rect x="835.40" y="92.3" width="2.2" height="32.4" fill="#eb4d5c"/><rect x="837.27" y="114.0" width="2.2" height="10.7" fill="#53b987"/><rect x="839.15" y="114.0" width="2.2" height="7.4" fill="#eb4d5c"/><rect x="841.02" y="118.0" width="2.2" height="3.4" fill="#53b987"/><rect x="842.90" y="97.7" width="2.2" height="20.3" fill="#53b987"/><rect x="844.77" y="87.6" width="2.2" height="10.1" fill="#53b987"/><rect x="846.65" y="80.0" width="2.2" height="7.6" fill="#53b987"/><rect x="848.52" y="80.0" width="2.2" height="27.8" fill="#eb4d5c"/><rect x="850.40" y="107.8" width="2.2" height="19.0" fill="#eb4d5c"/><rect x="852.27" y="126.0" width="2.2" height="1.0" fill="#53b987"/><rect x="854.15" y="126.0" width="2.2" height="20.0" fill="#eb4d5c"/><rect x="856.02" y="126.0" width="2.2" height="40.0" fill="#eb4d5c"/><rect x="857.90" y="151.5" width="2.2" height="14.5" fill="#53b987"/><rect x="859.77" y="137.0" width="2.2" height="14.5" fill="#53b987"/><rect x="861.65" y="137.0" width="2.2" height="11.4" fill="#eb4d5c"/><rect x="863.52" y="148.4" width="2.2" height="13.6" fill="#eb4d5c"/><rect x="865.40" y="162.0" width="2.2" height="12.7" fill="#eb4d5c"/><rect x="867.27" y="173.0" width="2.2" height="1.7" fill="#53b987"/><rect x="869.15" y="170.0" width="2.2" height="3.0" fill="#53b987"/><rect x="871.02" y="170.0" width="2.2" height="2.0" fill="#eb4d5c"/><rect x="872.90" y="166.6" width="2.2" height="5.4" fill="#53b987"/><rect x="874.77" y="166.6" width="2.2" height="2.0" fill="#eb4d5c"/><rect x="876.65" y="161.0" width="2.2" height="7.6" fill="#53b987"/><rect x="878.52" y="161.0" width="2.2" height="36.7" fill="#eb4d5c"/><rect x="880.40" y="174.7" width="2.2" height="23.0" fill="#53b987"/><rect x="882.27" y="166.0" width="2.2" height="8.7" fill="#53b987"/><rect x="884.15" y="157.0" width="2.2" height="9.0" fill="#53b987"/><rect x="886.02" y="157.0" width="2.2" height="4.0" fill="#eb4d5c"/><rect x="887.90" y="153.0" width="2.2" height="8.0" fill="#53b987"/><rect x="889.77" y="153.0" width="2.2" height="25.0" fill="#eb4d5c"/><rect x="891.65" y="178.0" width="2.2" height="3.5" fill="#eb4d5c"/><rect x="893.52" y="181.5" width="2.2" height="2.0" fill="#eb4d5c"/></g>
</g>
<text x="11.7" y="50" font-size="10.5" font-weight="bold" fill="#7b7b7b" textLength="160.5" lengthAdjust="spacingAndGlyphs">U.S. Dollar/Japanese Yen, 60, FXCM</text>
<line x1="5" y1="183.75" x2="1155" y2="183.75" stroke="#eb4d5c" stroke-width="1" stroke-dasharray="1,2"/>
<line x1="1155.5" y1="33.5" x2="1155.5" y2="623.5" stroke="#6d6d6d" stroke-width="1"/>
<line x1="5" y1="623.5" x2="1155.5" y2="623.5" stroke="#6d6d6d" stroke-width="1"/>
<g stroke="#6d6d6d" stroke-width="1">
<line x1="1155.5" y1="606.0" x2="1159" y2="606.0"/>
<line x1="1155.5" y1="572.5" x2="1159" y2="572.5"/>
<line x1="1155.5" y1="538.9" x2="1159" y2="538.9"/>
<line x1="1155.5" y1="505.4" x2="1159" y2="505.4"/>
<line x1="1155.5" y1="471.8" x2="1159" y2="471.8"/>
<line x1="1155.5" y1="438.3" x2="1159" y2="438.3"/>
<line x1="1155.5" y1="404.8" x2="1159" y2="404.8"/>
<line x1="1155.5" y1="371.2" x2="1159" y2="371.2"/>
<line x1="1155.5" y1="337.6" x2="1159" y2="337.6"/>
<line x1="1155.5" y1="304.1" x2="1159" y2="304.1"/>
<line x1="1155.5" y1="270.5" x2="1159" y2="270.5"/>
<line x1="1155.5" y1="237.0" x2="1159" y2="237.0"/>
<line x1="1155.5" y1="203.4" x2="1159" y2="203.4"/>
<line x1="1155.5" y1="169.9" x2="1159" y2="169.9"/>
<line x1="1155.5" y1="136.4" x2="1159" y2="136.4"/>
<line x1="1155.5" y1="102.8" x2="1159" y2="102.8"/>
<line x1="1155.5" y1="69.2" x2="1159" y2="69.2"/>
<line x1="1155.5" y1="35.7" x2="1159" y2="35.7"/>
<line x1="26.6" y1="623.5" x2="26.6" y2="627"/>
<line x1="116" y1="623.5" x2="116" y2="627"/>
<line x1="184" y1="623.5" x2="184" y2="627"/>
<line x1="251" y1="623.5" x2="251" y2="627"/>
<line x1="341.5" y1="623.5" x2="341.5" y2="627"/>
<line x1="430.8" y1="623.5" x2="430.8" y2="627"/>
<line x1="520.8" y1="623.5" x2="520.8" y2="627"/>
<line x1="610.5" y1="623.5" x2="610.5" y2="627"/>
<line x1="700.5" y1="623.5" x2="700.5" y2="627"/>
<line x1="790.8" y1="623.5" x2="790.8" y2="627"/>
<line x1="858.2" y1="623.5" x2="858.2" y2="627"/>
<line x1="924.8" y1="623.5" x2="924.8" y2="627"/>
<line x1="1015.2" y1="623.5" x2="1015.2" y2="627"/>
<line x1="1082.8" y1="623.5" x2="1082.8" y2="627"/>
<line x1="1150.6" y1="623.5" x2="1150.6" y2="627"/>
</g>
<g font-size="9" fill="#666">
<text x="1161" y="610.0" textLength="30" lengthAdjust="spacingAndGlyphs">106.800</text>
<text x="1161" y="576.5" textLength="30" lengthAdjust="spacingAndGlyphs">107.000</text>
<text x="1161" y="542.9" textLength="30" lengthAdjust="spacingAndGlyphs">107.200</text>
<text x="1161" y="509.4" textLength="30" lengthAdjust="spacingAndGlyphs">107.400</text>
<text x="1161" y="475.8" textLength="30" lengthAdjust="spacingAndGlyphs">107.600</text>
<text x="1161" y="442.3" textLength="30" lengthAdjust="spacingAndGlyphs">107.800</text>
<text x="1161" y="408.8" textLength="30" lengthAdjust="spacingAndGlyphs">108.000</text>
<text x="1161" y="375.2" textLength="30" lengthAdjust="spacingAndGlyphs">108.200</text>
<text x="1161" y="341.6" textLength="30" lengthAdjust="spacingAndGlyphs">108.400</text>
<text x="1161" y="308.1" textLength="30" lengthAdjust="spacingAndGlyphs">108.600</text>
<text x="1161" y="274.5" textLength="30" lengthAdjust="spacingAndGlyphs">108.800</text>
<text x="1161" y="241.0" textLength="30" lengthAdjust="spacingAndGlyphs">109.000</text>
<text x="1161" y="207.4" textLength="30" lengthAdjust="spacingAndGlyphs">109.200</text>
<text x="1161" y="173.9" textLength="30" lengthAdjust="spacingAndGlyphs">109.400</text>
<text x="1161" y="140.4" textLength="30" lengthAdjust="spacingAndGlyphs">109.600</text>
<text x="1161" y="106.8" textLength="30" lengthAdjust="spacingAndGlyphs">109.800</text>
<text x="1161" y="73.2" textLength="30" lengthAdjust="spacingAndGlyphs">110.000</text>
<text x="1161" y="39.7" textLength="30" lengthAdjust="spacingAndGlyphs">110.200</text>
<text x="22.60" y="634.7" textLength="8" lengthAdjust="spacingAndGlyphs">16</text>
<text x="112.00" y="634.7" textLength="8" lengthAdjust="spacingAndGlyphs">18</text>
<text x="174.50" y="634.7" textLength="19" lengthAdjust="spacingAndGlyphs">12:00</text>
<text x="247.00" y="634.7" textLength="8" lengthAdjust="spacingAndGlyphs">23</text>
<text x="337.50" y="634.7" textLength="8" lengthAdjust="spacingAndGlyphs">25</text>
<text x="426.80" y="634.7" textLength="8" lengthAdjust="spacingAndGlyphs">27</text>
<text x="512.30" y="634.7" textLength="17" lengthAdjust="spacingAndGlyphs" font-weight="bold">May</text>
<text x="608.50" y="634.7" textLength="4" lengthAdjust="spacingAndGlyphs">3</text>
<text x="698.50" y="634.7" textLength="4" lengthAdjust="spacingAndGlyphs">7</text>
<text x="788.80" y="634.7" textLength="4" lengthAdjust="spacingAndGlyphs">9</text>
<text x="848.70" y="634.7" textLength="19" lengthAdjust="spacingAndGlyphs">12:00</text>
<text x="920.80" y="634.7" textLength="8" lengthAdjust="spacingAndGlyphs">14</text>
<text x="1011.20" y="634.7" textLength="8" lengthAdjust="spacingAndGlyphs">16</text>
<text x="1073.30" y="634.7" textLength="19" lengthAdjust="spacingAndGlyphs">12:00</text>
<text x="1146.60" y="634.7" textLength="8" lengthAdjust="spacingAndGlyphs">21</text>
</g>
<rect x="1155.5" y="177" width="39.5" height="13" fill="#eb4d5c"/>
<text x="1161" y="187" font-size="9" fill="#fff" textLength="30" lengthAdjust="spacingAndGlyphs">109.320</text>
<rect x="1167.5" y="191.3" width="27.5" height="12" fill="#eb4d5c"/>
<text x="1171" y="200.8" font-size="9" fill="#fff" textLength="21" lengthAdjust="spacingAndGlyphs">19:54</text>
<g>
<clipPath id="c9055"><circle cx="905.5" cy="611.2" r="6.6"/></clipPath><g clip-path="url(#c9055)"><rect x="898.5" y="604.2" width="14" height="14" fill="#fff"/><rect x="898.5" y="611.8000000000001" width="14" height="3" fill="#eb4d5c"/><rect x="898.5" y="615.5" width="14" height="3" fill="#eb4d5c"/><rect x="898.5" y="607.6" width="14" height="3" fill="#eb4d5c"/><rect x="898.5" y="604.2" width="7.2" height="7.4" fill="#5b8fd9"/></g>
<clipPath id="c9033"><circle cx="903.3" cy="611.2" r="6.6"/></clipPath><g clip-path="url(#c9033)"><rect x="896.3" y="604.2" width="14" height="14" fill="#fff"/><rect x="896.3" y="611.8000000000001" width="14" height="3" fill="#eb4d5c"/><rect x="896.3" y="615.5" width="14" height="3" fill="#eb4d5c"/><rect x="896.3" y="607.6" width="14" height="3" fill="#eb4d5c"/><rect x="896.3" y="604.2" width="7.2" height="7.4" fill="#5b8fd9"/></g>
<circle cx="923.3" cy="611.2" r="7.4" fill="#f3f5f8"/><circle cx="923.3" cy="611.2" r="2.8" fill="#eb4d5c"/>
<clipPath id="c9533"><circle cx="953.3" cy="611.2" r="6.6"/></clipPath><g clip-path="url(#c9533)"><rect x="946.3" y="604.2" width="14" height="14" fill="#fff"/><rect x="946.3" y="611.8000000000001" width="14" height="3" fill="#eb4d5c"/><rect x="946.3" y="615.5" width="14" height="3" fill="#eb4d5c"/><rect x="946.3" y="607.6" width="14" height="3" fill="#eb4d5c"/><rect x="946.3" y="604.2" width="7.2" height="7.4" fill="#5b8fd9"/></g>
<clipPath id="c9923"><circle cx="992.3" cy="611.2" r="6.6"/></clipPath><g clip-path="url(#c9923)"><rect x="985.3" y="604.2" width="14" height="14" fill="#fff"/><rect x="985.3" y="611.8000000000001" width="14" height="3" fill="#eb4d5c"/><rect x="985.3" y="615.5" width="14" height="3" fill="#eb4d5c"/><rect x="985.3" y="607.6" width="14" height="3" fill="#eb4d5c"/><rect x="985.3" y="604.2" width="7.2" height="7.4" fill="#5b8fd9"/></g>
<clipPath id="c10080"><circle cx="1008" cy="611.2" r="6.6"/></clipPath><g clip-path="url(#c10080)"><rect x="1001" y="604.2" width="14" height="14" fill="#fff"/><rect x="1001" y="611.8000000000001" width="14" height="3" fill="#eb4d5c"/><rect x="1001" y="615.5" width="14" height="3" fill="#eb4d5c"/><rect x="1001" y="607.6" width="14" height="3" fill="#eb4d5c"/><rect x="1001" y="604.2" width="7.2" height="7.4" fill="#5b8fd9"/></g>
<circle cx="1019" cy="611.2" r="7.4" fill="#f3f5f8"/><circle cx="1019" cy="611.2" r="2.8" fill="#eb4d5c"/>
<circle cx="1026" cy="611.2" r="7.4" fill="#f3f5f8"/><circle cx="1026" cy="611.2" r="2.8" fill="#eb4d5c"/>
<clipPath id="c10380"><circle cx="1038" cy="611.2" r="6.6"/></clipPath><g clip-path="url(#c10380)"><rect x="1031" y="604.2" width="14" height="14" fill="#fff"/><rect x="1031" y="611.8000000000001" width="14" height="3" fill="#eb4d5c"/><rect x="1031" y="615.5" width="14" height="3" fill="#eb4d5c"/><rect x="1031" y="607.6" width="14" height="3" fill="#eb4d5c"/><rect x="1031" y="604.2" width="7.2" height="7.4" fill="#5b8fd9"/></g>
<clipPath id="c10420"><circle cx="1042" cy="611.2" r="6.6"/></clipPath><g clip-path="url(#c10420)"><rect x="1035" y="604.2" width="14" height="14" fill="#fff"/><rect x="1035" y="611.8000000000001" width="14" height="3" fill="#eb4d5c"/><rect x="1035" y="615.5" width="14" height="3" fill="#eb4d5c"/><rect x="1035" y="607.6" width="14" height="3" fill="#eb4d5c"/><rect x="1035" y="604.2" width="7.2" height="7.4" fill="#5b8fd9"/></g>
<circle cx="1058.3" cy="611.2" r="7.4" fill="#f3f5f8"/><circle cx="1058.3" cy="611.2" r="2.8" fill="#eb4d5c"/>
<circle cx="905.5" cy="611.2" r="8.6" fill="none" stroke="#f5a33a" stroke-width="1.4"/>
<circle cx="903.3" cy="611.2" r="8.6" fill="none" stroke="#f5a33a" stroke-width="1.4"/>
<circle cx="923.3" cy="611.2" r="8.6" fill="none" stroke="#fbbf5a" stroke-width="1.4"/>
<circle cx="953.3" cy="611.2" r="8.6" fill="none" stroke="#fbbf5a" stroke-width="1.4"/>
<circle cx="992.3" cy="611.2" r="8.6" fill="none" stroke="#f0607a" stroke-width="1.4"/>
<circle cx="1008" cy="611.2" r="8.6" fill="none" stroke="#fbbf5a" stroke-width="1.4"/>
<circle cx="1019" cy="611.2" r="8.6" fill="none" stroke="#f0607a" stroke-width="1.4"/>
<circle cx="1026" cy="611.2" r="8.6" fill="none" stroke="#fbbf5a" stroke-width="1.4"/>
<circle cx="1038" cy="611.2" r="8.6" fill="none" stroke="#f5a33a" stroke-width="1.4"/>
<circle cx="1042" cy="611.2" r="8.6" fill="none" stroke="#fbbf5a" stroke-width="1.4"/>
<circle cx="1058.3" cy="611.2" r="8.6" fill="none" stroke="#f5a33a" stroke-width="1.4"/>
</g>
<g font-size="8" font-weight="bold" fill="#333">
<rect x="907.5" y="602" width="6.5" height="7.5" fill="#fff"/>
<text x="908.5" y="608.6" textLength="4.5" lengthAdjust="spacingAndGlyphs">2</text>
<rect x="926.5" y="602" width="6.5" height="7.5" fill="#fff"/>
<text x="927.5" y="608.6" textLength="4.5" lengthAdjust="spacingAndGlyphs">2</text>
<rect x="957.7" y="602" width="6.5" height="7.5" fill="#fff"/>
<text x="958.7" y="608.6" textLength="4.5" lengthAdjust="spacingAndGlyphs">3</text>
<rect x="997" y="602" width="6" height="7.5" fill="#fff"/>
<text x="998" y="608.6" textLength="4" lengthAdjust="spacingAndGlyphs">7</text>
<rect x="1010" y="602" width="13" height="7.5" fill="#fff"/>
<text x="1011" y="608.6" textLength="11" lengthAdjust="spacingAndGlyphs">125</text>
<rect x="1027" y="602" width="6.5" height="7.5" fill="#fff"/>
<text x="1028" y="608.6" textLength="4.5" lengthAdjust="spacingAndGlyphs">2</text>
<rect x="1040" y="602" width="6.5" height="7.5" fill="#fff"/>
<text x="1041" y="608.6" textLength="4.5" lengthAdjust="spacingAndGlyphs">5</text>
<rect x="1062" y="602" width="6.5" height="7.5" fill="#fff"/>
<text x="1063" y="608.6" textLength="4.5" lengthAdjust="spacingAndGlyphs">6</text>
</g>
<rect x="4.9" y="33.6" width="1190.1" height="603.9" fill="none" stroke="#808080" stroke-width="1.4"/>
<text x="5" y="656" font-size="11" fill="#333" stroke="#333" stroke-width="0.3" textLength="56" lengthAdjust="spacingAndGlyphs">Created with</text>
<g fill="#5bc0e8"><circle cx="71.6" cy="652.9" r="3.7"/><circle cx="78" cy="650.9" r="5.4"/><circle cx="83.4" cy="653.4" r="3.3"/><rect x="71.6" y="652.9" width="11.8" height="3.8"/></g>
<polyline points="68.6,656.2 74,650.6 78.4,654.6 85.2,648.4" fill="none" stroke="#fff" stroke-width="1.5"/>
<text x="91.5" y="656" font-size="11" fill="#4db4e4" stroke="#4db4e4" stroke-width="0.15" textLength="54" lengthAdjust="spacingAndGlyphs">TradingView</text>
</svg></body></html>
